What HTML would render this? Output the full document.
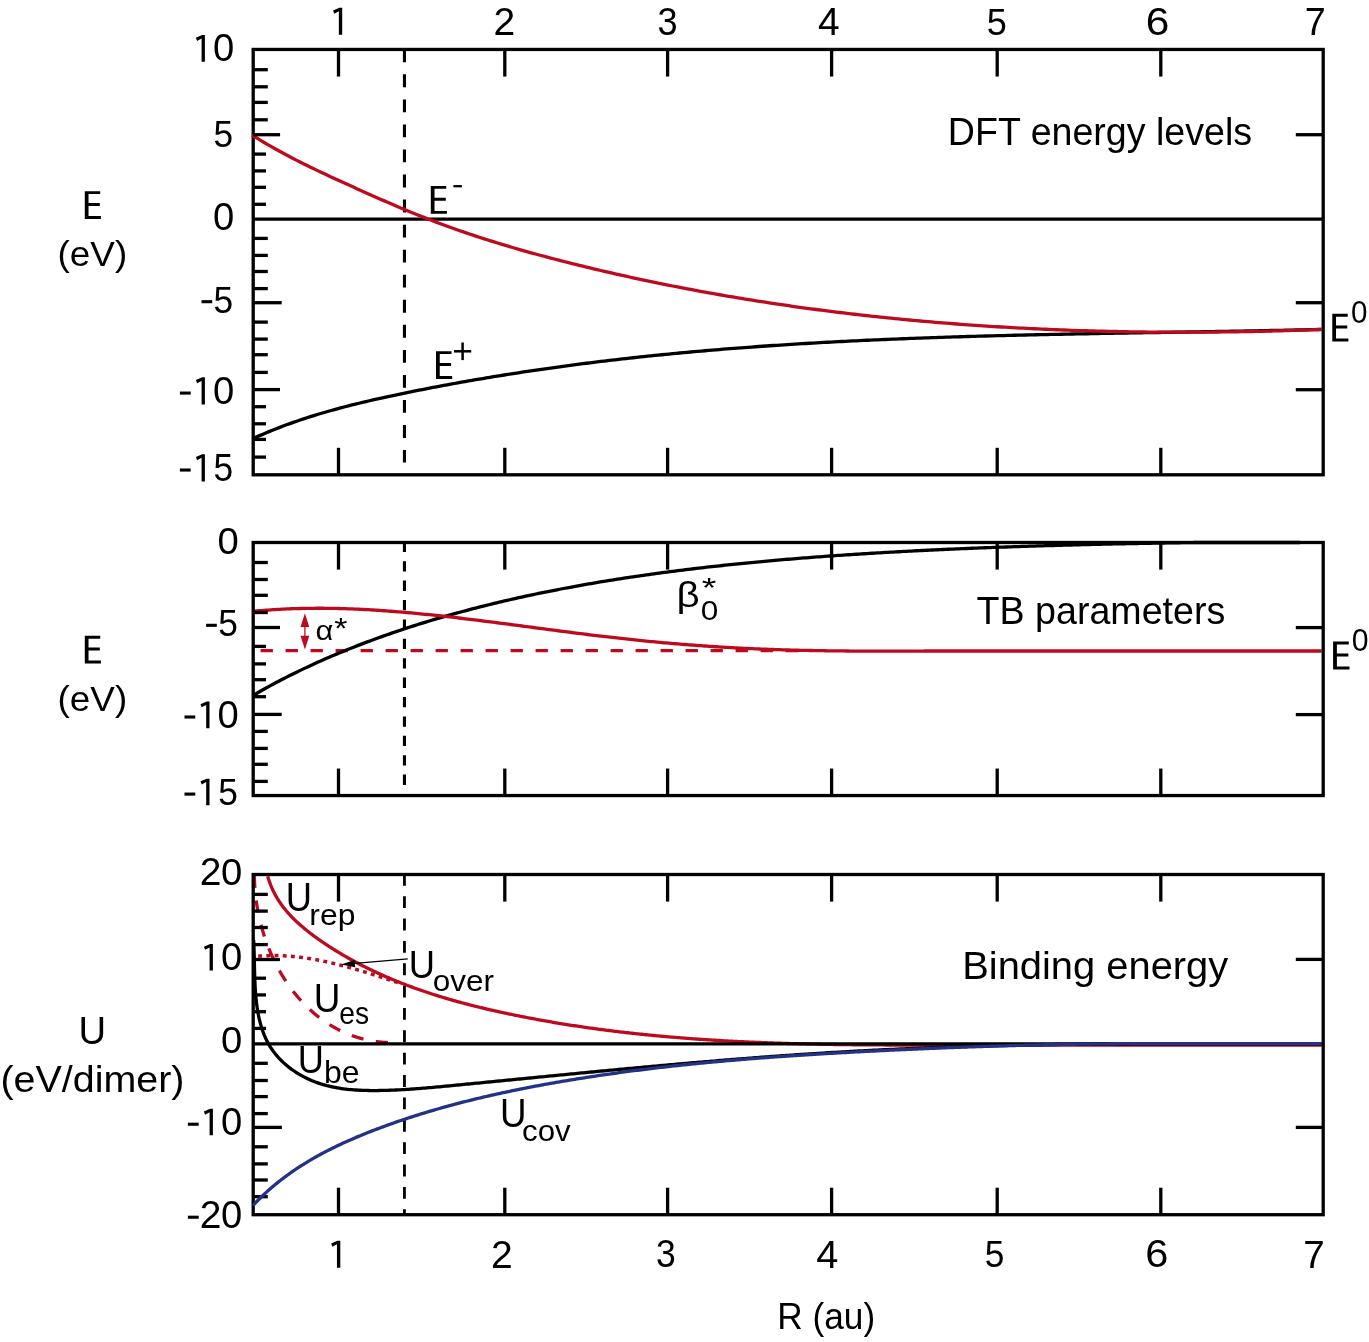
<!DOCTYPE html>
<html><head><meta charset="utf-8"><title>DFT energy levels, TB parameters and binding energy vs R (au)</title>
<style>html,body{margin:0;padding:0;background:#fff}svg{display:block;will-change:transform}text{font-family:"Liberation Sans",sans-serif}</style></head>
<body>
<svg width="1369" height="1342" viewBox="0 0 1369 1342" font-family="'Liberation Sans', sans-serif">
<rect width="1369" height="1342" fill="#fff"/>
<line x1="404.45" y1="49.30" x2="404.45" y2="462.60" stroke="#000" stroke-width="3.1" stroke-dasharray="12.85 12.2"/>
<line x1="253.20" y1="219.20" x2="1323.20" y2="219.20" stroke="#000" stroke-width="3.3" />
<path d="M253.00,438.60 L256.31,437.09 L259.64,435.62 L262.97,434.17 L266.31,432.75 L269.65,431.36 L273.01,430.00 L276.37,428.67 L279.74,427.36 L283.12,426.07 L286.50,424.82 L289.90,423.58 L293.29,422.37 L296.70,421.19 L300.11,420.02 L303.53,418.88 L306.96,417.77 L310.39,416.67 L313.82,415.59 L317.27,414.54 L320.71,413.50 L324.17,412.48 L327.63,411.48 L331.09,410.50 L334.56,409.54 L338.03,408.59 L341.51,407.66 L344.99,406.75 L348.48,405.85 L351.97,404.97 L355.47,404.10 L358.96,403.24 L362.47,402.40 L365.97,401.57 L369.48,400.75 L372.99,399.94 L376.51,399.15 L380.03,398.36 L383.55,397.58 L387.07,396.82 L390.59,396.06 L394.12,395.31 L397.65,394.56 L401.18,393.83 L404.71,393.10 L408.25,392.38 L411.78,391.66 L415.32,390.95 L418.86,390.24 L422.40,389.54 L425.94,388.85 L429.48,388.16 L433.03,387.47 L436.57,386.80 L440.12,386.13 L443.67,385.46 L447.22,384.80 L450.77,384.15 L454.32,383.50 L457.87,382.86 L461.43,382.22 L464.98,381.59 L468.54,380.96 L472.10,380.34 L475.66,379.72 L479.22,379.11 L482.78,378.51 L486.34,377.91 L489.90,377.32 L493.47,376.73 L497.03,376.15 L500.60,375.57 L504.17,375.00 L507.73,374.43 L511.30,373.87 L514.87,373.31 L518.44,372.76 L522.02,372.21 L525.59,371.67 L529.16,371.14 L532.74,370.61 L536.31,370.08 L539.89,369.56 L543.46,369.05 L547.04,368.54 L550.62,368.03 L554.20,367.53 L557.78,367.04 L561.36,366.55 L564.94,366.06 L568.52,365.58 L572.11,365.11 L575.69,364.64 L579.27,364.17 L582.86,363.71 L586.44,363.25 L590.03,362.80 L593.61,362.35 L597.20,361.91 L600.79,361.48 L604.37,361.04 L607.96,360.62 L611.55,360.19 L615.14,359.77 L618.73,359.36 L622.32,358.95 L625.90,358.55 L629.49,358.14 L633.09,357.75 L636.68,357.36 L640.27,356.97 L643.86,356.59 L647.45,356.21 L651.04,355.84 L654.63,355.47 L658.22,355.10 L661.82,354.74 L665.41,354.39 L669.00,354.03 L672.60,353.68 L676.19,353.34 L679.78,353.00 L683.38,352.67 L686.97,352.33 L690.57,352.01 L694.16,351.68 L697.76,351.36 L701.35,351.05 L704.95,350.74 L708.54,350.43 L712.14,350.12 L715.73,349.82 L719.33,349.53 L722.93,349.23 L726.52,348.95 L730.12,348.66 L733.72,348.38 L737.31,348.10 L740.91,347.83 L744.51,347.56 L748.11,347.29 L751.71,347.03 L755.30,346.77 L758.90,346.51 L762.50,346.26 L766.10,346.01 L769.70,345.76 L773.30,345.52 L776.90,345.28 L780.50,345.04 L784.10,344.81 L787.70,344.58 L791.30,344.35 L794.90,344.13 L798.50,343.91 L802.10,343.69 L805.70,343.48 L809.30,343.26 L812.91,343.06 L816.51,342.85 L820.11,342.65 L823.71,342.45 L827.31,342.25 L830.92,342.06 L834.52,341.87 L838.12,341.68 L841.72,341.49 L845.33,341.31 L848.93,341.13 L852.53,340.95 L856.14,340.78 L859.74,340.61 L863.34,340.44 L866.95,340.27 L870.55,340.11 L874.16,339.95 L877.76,339.79 L881.37,339.63 L884.97,339.48 L888.58,339.32 L892.18,339.17 L895.79,339.03 L899.39,338.88 L903.00,338.74 L906.60,338.60 L910.21,338.46 L913.81,338.32 L917.42,338.19 L921.02,338.06 L924.63,337.93 L928.24,337.80 L931.84,337.67 L935.45,337.55 L939.06,337.43 L942.66,337.31 L946.27,337.19 L949.88,337.07 L953.48,336.96 L957.09,336.85 L960.70,336.74 L964.30,336.63 L967.91,336.52 L971.52,336.41 L975.13,336.31 L978.73,336.21 L982.34,336.11 L985.95,336.01 L989.56,335.91 L993.17,335.81 L996.77,335.72 L1000.38,335.63 L1003.99,335.53 L1007.60,335.44 L1011.21,335.35 L1014.82,335.27 L1018.42,335.18 L1022.03,335.09 L1025.64,335.01 L1029.25,334.93 L1032.86,334.84 L1036.47,334.76 L1040.08,334.68 L1043.69,334.61 L1047.29,334.53 L1050.90,334.45 L1054.51,334.38 L1058.12,334.30 L1061.73,334.23 L1065.34,334.16 L1068.95,334.08 L1072.56,334.01 L1076.17,333.94 L1079.78,333.87 L1083.39,333.81 L1087.00,333.74 L1090.61,333.67 L1094.22,333.60 L1097.83,333.54 L1101.44,333.47 L1105.05,333.41 L1108.66,333.34 L1112.26,333.28 L1115.87,333.22 L1119.48,333.15 L1123.09,333.09 L1126.70,333.03 L1130.31,332.97 L1133.92,332.91 L1137.53,332.84 L1141.14,332.78 L1144.75,332.72 L1148.36,332.66 L1151.97,332.60 L1155.58,332.54 L1159.19,332.48 L1162.80,332.42 L1166.41,332.36 L1170.02,332.30 L1173.63,332.24 L1177.24,332.18 L1180.85,332.12 L1184.46,332.06 L1188.07,332.00 L1191.68,331.94 L1195.29,331.88 L1198.90,331.82 L1202.51,331.76 L1206.12,331.70 L1209.73,331.64 L1213.34,331.57 L1216.95,331.51 L1220.56,331.45 L1224.17,331.39 L1227.78,331.32 L1231.38,331.26 L1234.99,331.19 L1238.60,331.13 L1242.21,331.06 L1245.82,330.99 L1249.43,330.93 L1253.04,330.86 L1256.65,330.79 L1260.26,330.72 L1263.87,330.65 L1267.48,330.58 L1271.08,330.51 L1274.69,330.44 L1278.30,330.36 L1281.91,330.29 L1285.52,330.21 L1289.13,330.14 L1292.74,330.06 L1296.34,329.98 L1299.95,329.90 L1303.56,329.82 L1307.17,329.74 L1310.78,329.66 L1314.38,329.57 L1317.99,329.49 L1321.60,329.40" fill="none" stroke="#000" stroke-width="3.3" stroke-linejoin="round"/>
<rect x="253.2" y="49.45" width="1070.00" height="425.35" fill="none" stroke="#000" stroke-width="3.3"/>
<path d="M252.00,135.00 L255.12,136.97 L258.25,138.91 L261.40,140.82 L264.56,142.71 L267.74,144.58 L270.92,146.42 L274.12,148.23 L277.33,150.03 L280.55,151.80 L283.79,153.55 L287.03,155.28 L290.28,156.99 L293.54,158.69 L296.81,160.36 L300.09,162.03 L303.38,163.67 L306.67,165.30 L309.98,166.92 L313.29,168.53 L316.60,170.12 L319.92,171.70 L323.25,173.27 L326.58,174.84 L329.92,176.39 L333.26,177.94 L336.61,179.48 L339.96,181.01 L343.31,182.54 L346.66,184.07 L350.02,185.59 L353.38,187.11 L356.74,188.63 L360.10,190.15 L363.47,191.66 L366.84,193.17 L370.21,194.67 L373.58,196.17 L376.95,197.66 L380.33,199.15 L383.71,200.63 L387.09,202.10 L390.48,203.57 L393.87,205.03 L397.26,206.47 L400.66,207.91 L404.06,209.34 L407.47,210.76 L410.88,212.16 L414.29,213.56 L417.71,214.94 L421.13,216.31 L424.56,217.66 L427.99,219.00 L431.43,220.33 L434.87,221.64 L438.32,222.94 L441.77,224.22 L445.23,225.49 L448.69,226.75 L452.15,227.99 L455.62,229.22 L459.10,230.44 L462.58,231.64 L466.06,232.83 L469.55,234.01 L473.04,235.18 L476.53,236.33 L480.03,237.47 L483.53,238.60 L487.04,239.72 L490.55,240.83 L494.06,241.92 L497.58,243.01 L501.10,244.08 L504.63,245.15 L508.15,246.20 L511.68,247.24 L515.22,248.27 L518.75,249.30 L522.29,250.31 L525.83,251.31 L529.38,252.31 L532.92,253.29 L536.47,254.27 L540.03,255.23 L543.58,256.19 L547.14,257.14 L550.70,258.08 L554.26,259.01 L557.82,259.94 L561.39,260.86 L564.96,261.77 L568.53,262.67 L572.10,263.57 L575.67,264.45 L579.24,265.34 L582.82,266.21 L586.40,267.08 L589.98,267.94 L593.56,268.80 L597.14,269.65 L600.72,270.49 L604.31,271.33 L607.89,272.16 L611.48,272.98 L615.07,273.80 L618.66,274.61 L622.25,275.41 L625.84,276.21 L629.44,277.00 L633.03,277.78 L636.63,278.56 L640.23,279.33 L643.83,280.10 L647.43,280.86 L651.03,281.61 L654.63,282.36 L658.24,283.10 L661.85,283.84 L665.45,284.56 L669.06,285.29 L672.67,286.00 L676.28,286.71 L679.89,287.41 L683.51,288.11 L687.12,288.80 L690.74,289.49 L694.36,290.17 L697.97,290.84 L701.59,291.51 L705.21,292.17 L708.84,292.82 L712.46,293.47 L716.08,294.12 L719.71,294.75 L723.33,295.38 L726.96,296.01 L730.59,296.63 L734.22,297.24 L737.85,297.85 L741.48,298.45 L745.11,299.05 L748.75,299.63 L752.38,300.22 L756.02,300.80 L759.65,301.37 L763.29,301.93 L766.93,302.49 L770.57,303.05 L774.21,303.60 L777.85,304.14 L781.49,304.68 L785.13,305.21 L788.78,305.74 L792.42,306.26 L796.07,306.77 L799.72,307.28 L803.36,307.78 L807.01,308.28 L810.66,308.77 L814.31,309.26 L817.96,309.74 L821.62,310.22 L825.27,310.69 L828.92,311.15 L832.58,311.61 L836.23,312.06 L839.89,312.51 L843.54,312.95 L847.20,313.39 L850.86,313.82 L854.52,314.24 L858.18,314.67 L861.84,315.08 L865.50,315.49 L869.16,315.89 L872.82,316.29 L876.49,316.69 L880.15,317.07 L883.81,317.46 L887.48,317.84 L891.14,318.21 L894.81,318.57 L898.48,318.94 L902.14,319.29 L905.81,319.64 L909.48,319.99 L913.15,320.33 L916.82,320.67 L920.49,321.00 L924.16,321.32 L927.83,321.64 L931.50,321.96 L935.18,322.27 L938.85,322.57 L942.52,322.87 L946.20,323.17 L949.87,323.46 L953.55,323.74 L957.22,324.02 L960.90,324.30 L964.57,324.57 L968.25,324.83 L971.93,325.09 L975.60,325.35 L979.28,325.60 L982.96,325.84 L986.64,326.08 L990.32,326.32 L994.00,326.55 L997.67,326.77 L1001.35,326.99 L1005.03,327.21 L1008.72,327.42 L1012.40,327.63 L1016.08,327.83 L1019.76,328.03 L1023.44,328.22 L1027.12,328.40 L1030.80,328.59 L1034.49,328.77 L1038.17,328.94 L1041.85,329.11 L1045.53,329.27 L1049.22,329.43 L1052.90,329.58 L1056.58,329.73 L1060.27,329.88 L1063.95,330.02 L1067.64,330.16 L1071.32,330.29 L1075.00,330.42 L1078.69,330.54 L1082.37,330.66 L1086.06,330.77 L1089.74,330.88 L1093.43,330.98 L1097.11,331.09 L1100.80,331.18 L1104.48,331.27 L1108.17,331.36 L1111.85,331.44 L1115.54,331.52 L1119.22,331.59 L1122.91,331.66 L1126.59,331.73 L1130.28,331.79 L1133.96,331.85 L1137.64,331.90 L1141.33,331.95 L1145.01,331.99 L1148.70,332.03 L1152.38,332.07 L1156.07,332.10 L1159.75,332.13 L1163.44,332.15 L1167.12,332.17 L1170.80,332.18 L1174.49,332.19 L1178.17,332.20 L1181.85,332.20 L1185.54,332.20 L1189.22,332.19 L1192.90,332.18 L1196.59,332.17 L1200.27,332.15 L1203.95,332.13 L1207.63,332.10 L1211.31,332.07 L1215.00,332.04 L1218.68,332.00 L1222.36,331.96 L1226.04,331.91 L1229.72,331.87 L1233.40,331.81 L1237.08,331.75 L1240.76,331.69 L1244.44,331.63 L1248.12,331.56 L1251.79,331.49 L1255.47,331.41 L1259.15,331.33 L1262.83,331.25 L1266.50,331.16 L1270.18,331.07 L1273.86,330.97 L1277.53,330.87 L1281.21,330.77 L1284.88,330.66 L1288.55,330.55 L1292.23,330.44 L1295.90,330.32 L1299.57,330.20 L1303.25,330.08 L1306.92,329.95 L1310.59,329.82 L1314.26,329.68 L1317.93,329.54 L1321.60,329.40" fill="none" stroke="#BE0A1E" stroke-width="3.3" stroke-linejoin="round"/>
<line x1="253.20" y1="134.70" x2="280.10" y2="134.70" stroke="#000" stroke-width="3.3" />
<line x1="253.20" y1="302.70" x2="281.70" y2="302.70" stroke="#000" stroke-width="3.3" />
<line x1="253.20" y1="389.60" x2="280.00" y2="389.60" stroke="#000" stroke-width="3.3" />
<line x1="253.20" y1="69.70" x2="267.80" y2="69.70" stroke="#000" stroke-width="3.3" />
<line x1="253.20" y1="86.80" x2="267.80" y2="86.80" stroke="#000" stroke-width="3.3" />
<line x1="253.20" y1="102.40" x2="267.80" y2="102.40" stroke="#000" stroke-width="3.3" />
<line x1="253.20" y1="119.80" x2="267.80" y2="119.80" stroke="#000" stroke-width="3.3" />
<line x1="253.20" y1="238.40" x2="267.80" y2="238.40" stroke="#000" stroke-width="3.3" />
<line x1="253.20" y1="255.40" x2="267.80" y2="255.40" stroke="#000" stroke-width="3.3" />
<line x1="253.20" y1="271.50" x2="267.80" y2="271.50" stroke="#000" stroke-width="3.3" />
<line x1="253.20" y1="288.60" x2="267.80" y2="288.60" stroke="#000" stroke-width="3.3" />
<line x1="253.20" y1="322.10" x2="267.80" y2="322.10" stroke="#000" stroke-width="3.3" />
<line x1="253.20" y1="339.10" x2="267.80" y2="339.10" stroke="#000" stroke-width="3.3" />
<line x1="253.20" y1="354.70" x2="267.80" y2="354.70" stroke="#000" stroke-width="3.3" />
<line x1="253.20" y1="372.40" x2="267.80" y2="372.40" stroke="#000" stroke-width="3.3" />
<line x1="253.20" y1="154.10" x2="266.00" y2="154.10" stroke="#000" stroke-width="3.3" />
<line x1="253.20" y1="170.90" x2="266.00" y2="170.90" stroke="#000" stroke-width="3.3" />
<line x1="253.20" y1="187.30" x2="266.00" y2="187.30" stroke="#000" stroke-width="3.3" />
<line x1="253.20" y1="204.30" x2="266.00" y2="204.30" stroke="#000" stroke-width="3.3" />
<line x1="253.20" y1="406.70" x2="266.00" y2="406.70" stroke="#000" stroke-width="3.3" />
<line x1="253.20" y1="423.80" x2="266.00" y2="423.80" stroke="#000" stroke-width="3.3" />
<line x1="253.20" y1="439.40" x2="266.00" y2="439.40" stroke="#000" stroke-width="3.3" />
<line x1="253.20" y1="457.10" x2="266.00" y2="457.10" stroke="#000" stroke-width="3.3" />
<line x1="1295.80" y1="134.70" x2="1323.20" y2="134.70" stroke="#000" stroke-width="3.3" />
<line x1="1295.80" y1="302.70" x2="1323.20" y2="302.70" stroke="#000" stroke-width="3.3" />
<line x1="1295.80" y1="389.70" x2="1323.20" y2="389.70" stroke="#000" stroke-width="3.3" />
<line x1="338.50" y1="49.45" x2="338.50" y2="76.55" stroke="#000" stroke-width="3.3" />
<line x1="338.50" y1="447.80" x2="338.50" y2="474.80" stroke="#000" stroke-width="3.3" />
<line x1="504.80" y1="49.45" x2="504.80" y2="76.55" stroke="#000" stroke-width="3.3" />
<line x1="504.80" y1="447.80" x2="504.80" y2="474.80" stroke="#000" stroke-width="3.3" />
<line x1="667.60" y1="49.45" x2="667.60" y2="76.55" stroke="#000" stroke-width="3.3" />
<line x1="667.60" y1="447.80" x2="667.60" y2="474.80" stroke="#000" stroke-width="3.3" />
<line x1="831.60" y1="49.45" x2="831.60" y2="76.55" stroke="#000" stroke-width="3.3" />
<line x1="831.60" y1="447.80" x2="831.60" y2="474.80" stroke="#000" stroke-width="3.3" />
<line x1="997.20" y1="49.45" x2="997.20" y2="76.55" stroke="#000" stroke-width="3.3" />
<line x1="997.20" y1="447.80" x2="997.20" y2="474.80" stroke="#000" stroke-width="3.3" />
<line x1="1160.80" y1="49.45" x2="1160.80" y2="76.55" stroke="#000" stroke-width="3.3" />
<line x1="1160.80" y1="447.80" x2="1160.80" y2="474.80" stroke="#000" stroke-width="3.3" />
<line x1="404.45" y1="541.80" x2="404.45" y2="795.00" stroke="#000" stroke-width="3.1" stroke-dasharray="10.3 9.1"/>
<line x1="260.60" y1="650.70" x2="800.00" y2="650.70" stroke="#BE0A1E" stroke-width="3.3" stroke-dasharray="12.3 12.7"/>
<path d="M252.50,695.85 L255.13,694.30 L257.75,692.77 L260.38,691.26 L263.00,689.77 L265.63,688.30 L268.25,686.84 L270.88,685.40 L273.50,683.98 L276.13,682.58 L278.75,681.19 L281.38,679.82 L284.00,678.47 L286.63,677.12 L289.25,675.80 L291.88,674.49 L294.51,673.19 L297.13,671.90 L299.76,670.63 L302.38,669.37 L305.01,668.13 L307.63,666.90 L310.26,665.68 L312.88,664.47 L315.51,663.28 L318.13,662.09 L320.76,660.92 L323.38,659.76 L326.01,658.61 L328.63,657.48 L331.26,656.35 L333.88,655.23 L336.51,654.13 L339.14,653.04 L341.76,651.95 L344.39,650.88 L347.01,649.81 L349.64,648.76 L352.26,647.72 L354.89,646.68 L357.51,645.66 L360.14,644.64 L362.76,643.64 L365.39,642.64 L368.01,641.65 L370.64,640.68 L373.26,639.71 L375.89,638.75 L378.52,637.80 L381.14,636.85 L383.77,635.92 L386.39,634.99 L389.02,634.08 L391.64,633.17 L394.27,632.27 L396.89,631.38 L399.52,630.49 L402.14,629.61 L404.77,628.75 L407.39,627.89 L410.02,627.03 L412.64,626.19 L415.27,625.35 L417.89,624.52 L420.52,623.70 L423.15,622.88 L425.77,622.08 L428.40,621.28 L431.02,620.48 L433.65,619.70 L436.27,618.92 L438.90,618.15 L441.52,617.38 L444.15,616.62 L446.77,615.87 L449.40,615.13 L452.02,614.39 L454.65,613.66 L457.27,612.93 L459.90,612.22 L462.53,611.50 L465.15,610.80 L467.78,610.10 L470.40,609.41 L473.03,608.72 L475.65,608.04 L478.28,607.37 L480.90,606.70 L483.53,606.04 L486.15,605.38 L488.78,604.73 L491.40,604.09 L494.03,603.45 L496.65,602.82 L499.28,602.19 L501.90,601.57 L504.53,600.96 L507.16,600.35 L509.78,599.74 L512.41,599.14 L515.03,598.55 L517.66,597.96 L520.28,597.38 L522.91,596.80 L525.53,596.23 L528.16,595.66 L530.78,595.10 L533.41,594.55 L536.03,593.99 L538.66,593.45 L541.28,592.91 L543.91,592.37 L546.54,591.84 L549.16,591.31 L551.79,590.79 L554.41,590.27 L557.04,589.76 L559.66,589.25 L562.29,588.75 L564.91,588.25 L567.54,587.76 L570.16,587.27 L572.79,586.79 L575.41,586.31 L578.04,585.83 L580.66,585.36 L583.29,584.89 L585.91,584.43 L588.54,583.97 L591.17,583.52 L593.79,583.07 L596.42,582.62 L599.04,582.18 L601.67,581.74 L604.29,581.31 L606.92,580.88 L609.54,580.45 L612.17,580.03 L614.79,579.61 L617.42,579.20 L620.04,578.79 L622.67,578.39 L625.29,577.98 L627.92,577.59 L630.55,577.19 L633.17,576.80 L635.80,576.41 L638.42,576.03 L641.05,575.65 L643.67,575.27 L646.30,574.90 L648.92,574.53 L651.55,574.16 L654.17,573.80 L656.80,573.44 L659.42,573.09 L662.05,572.73 L664.67,572.39 L667.30,572.04 L669.92,571.70 L672.55,571.36 L675.18,571.02 L677.80,570.69 L680.43,570.36 L683.05,570.03 L685.68,569.71 L688.30,569.39 L690.93,569.07 L693.55,568.76 L696.18,568.45 L698.80,568.14 L701.43,567.83 L704.05,567.53 L706.68,567.23 L709.30,566.94 L711.93,566.64 L714.56,566.35 L717.18,566.06 L719.81,565.78 L722.43,565.50 L725.06,565.22 L727.68,564.94 L730.31,564.67 L732.93,564.39 L735.56,564.12 L738.18,563.86 L740.81,563.59 L743.43,563.33 L746.06,563.07 L748.68,562.82 L751.31,562.56 L753.93,562.31 L756.56,562.06 L759.19,561.82 L761.81,561.57 L764.44,561.33 L767.06,561.09 L769.69,560.86 L772.31,560.62 L774.94,560.39 L777.56,560.16 L780.19,559.93 L782.81,559.71 L785.44,559.48 L788.06,559.26 L790.69,559.04 L793.31,558.83 L795.94,558.61 L798.57,558.40 L801.19,558.19 L803.82,557.98 L806.44,557.78 L809.07,557.57 L811.69,557.37 L814.32,557.17 L816.94,556.97 L819.57,556.78 L822.19,556.58 L824.82,556.39 L827.44,556.20 L830.07,556.01 L832.69,555.82 L835.32,555.64 L837.94,555.46 L840.57,555.28 L843.20,555.10 L845.82,554.92 L848.45,554.75 L851.07,554.57 L853.70,554.40 L856.32,554.23 L858.95,554.06 L861.57,553.90 L864.20,553.73 L866.82,553.57 L869.45,553.41 L872.07,553.25 L874.70,553.09 L877.32,552.93 L879.95,552.78 L882.58,552.62 L885.20,552.47 L887.83,552.32 L890.45,552.17 L893.08,552.03 L895.70,551.88 L898.33,551.74 L900.95,551.59 L903.58,551.45 L906.20,551.31 L908.83,551.18 L911.45,551.04 L914.08,550.90 L916.70,550.77 L919.33,550.64 L921.95,550.51 L924.58,550.38 L927.21,550.25 L929.83,550.12 L932.46,550.00 L935.08,549.87 L937.71,549.75 L940.33,549.63 L942.96,549.51 L945.58,549.39 L948.21,549.27 L950.83,549.15 L953.46,549.04 L956.08,548.93 L958.71,548.81 L961.33,548.70 L963.96,548.59 L966.59,548.48 L969.21,548.37 L971.84,548.27 L974.46,548.16 L977.09,548.06 L979.71,547.95 L982.34,547.85 L984.96,547.75 L987.59,547.65 L990.21,547.55 L992.84,547.45 L995.46,547.36 L998.09,547.26 L1000.71,547.17 L1003.34,547.07 L1005.96,546.98 L1008.59,546.89 L1011.22,546.80 L1013.84,546.71 L1016.47,546.62 L1019.09,546.53 L1021.72,546.45 L1024.34,546.36 L1026.97,546.28 L1029.59,546.19 L1032.22,546.11 L1034.84,546.03 L1037.47,545.95 L1040.09,545.87 L1042.72,545.79 L1045.34,545.71 L1047.97,545.63 L1050.60,545.56 L1053.22,545.48 L1055.85,545.41 L1058.47,545.33 L1061.10,545.26 L1063.72,545.19 L1066.35,545.12 L1068.97,545.05 L1071.60,544.98 L1074.22,544.91 L1076.85,544.84 L1079.47,544.78 L1082.10,544.71 L1084.72,544.64 L1087.35,544.58 L1089.97,544.51 L1092.60,544.45 L1095.23,544.39 L1097.85,544.33 L1100.48,544.27 L1103.10,544.21 L1105.73,544.15 L1108.35,544.09 L1110.98,544.03 L1113.60,543.97 L1116.23,543.92 L1118.85,543.86 L1121.48,543.80 L1124.10,543.75 L1126.73,543.70 L1129.35,543.64 L1131.98,543.59 L1134.61,543.54 L1137.23,543.49 L1139.86,543.44 L1142.48,543.39 L1145.11,543.34 L1147.73,543.29 L1150.36,543.24 L1152.98,543.19 L1155.61,543.14 L1158.23,543.10 L1160.86,543.05 L1163.48,543.01 L1166.11,542.96 L1168.73,542.92 L1171.36,542.87 L1173.98,542.83 L1176.61,542.79 L1179.24,542.75 L1181.86,542.71 L1184.49,542.67 L1187.11,542.62 L1189.74,542.59 L1192.36,542.55 L1194.99,542.51 L1197.61,542.50 L1200.24,542.50 L1202.86,542.50 L1205.49,542.50 L1208.11,542.50 L1210.74,542.50 L1213.36,542.50 L1215.99,542.50 L1218.62,542.50 L1221.24,542.50 L1223.87,542.50 L1226.49,542.50 L1229.12,542.50 L1231.74,542.50 L1234.37,542.50 L1236.99,542.50 L1239.62,542.50 L1242.24,542.50 L1244.87,542.50 L1247.49,542.50 L1250.12,542.50 L1252.74,542.50 L1255.37,542.50 L1257.99,542.50 L1260.62,542.50 L1263.25,542.50 L1265.87,542.50 L1268.50,542.50 L1271.12,542.50 L1273.75,542.50 L1276.37,542.50 L1279.00,542.50 L1281.62,542.50 L1284.25,542.50 L1286.87,542.50 L1289.50,542.50 L1292.12,542.50 L1294.75,542.50 L1297.37,542.50 L1300.00,542.50" fill="none" stroke="#000" stroke-width="3.3" stroke-linejoin="round"/>
<path d="M252.50,611.40 L254.77,611.18 L257.04,610.96 L259.32,610.76 L261.59,610.56 L263.86,610.38 L266.13,610.20 L268.41,610.03 L270.68,609.87 L272.95,609.71 L275.22,609.57 L277.49,609.43 L279.77,609.30 L282.04,609.18 L284.31,609.06 L286.58,608.96 L288.85,608.86 L291.12,608.77 L293.40,608.69 L295.67,608.61 L297.94,608.55 L300.21,608.49 L302.48,608.43 L304.75,608.39 L307.02,608.35 L309.29,608.32 L311.56,608.29 L313.83,608.28 L316.10,608.26 L318.38,608.26 L320.65,608.26 L322.92,608.27 L325.19,608.29 L327.46,608.31 L329.72,608.34 L331.99,608.37 L334.26,608.42 L336.53,608.46 L338.80,608.52 L341.07,608.57 L343.34,608.64 L345.61,608.71 L347.88,608.79 L350.15,608.87 L352.41,608.96 L354.68,609.05 L356.95,609.15 L359.22,609.26 L361.49,609.36 L363.75,609.48 L366.02,609.60 L368.29,609.72 L370.56,609.85 L372.82,609.99 L375.09,610.13 L377.36,610.27 L379.62,610.42 L381.89,610.58 L384.16,610.74 L386.42,610.90 L388.69,611.06 L390.95,611.24 L393.22,611.41 L395.48,611.59 L397.75,611.78 L400.01,611.96 L402.28,612.15 L404.54,612.35 L406.81,612.55 L409.07,612.75 L411.33,612.96 L413.60,613.17 L415.86,613.38 L418.12,613.60 L420.39,613.82 L422.65,614.04 L424.91,614.27 L427.17,614.50 L429.43,614.73 L431.70,614.97 L433.96,615.20 L436.22,615.45 L438.48,615.69 L440.74,615.94 L443.00,616.18 L445.26,616.44 L447.52,616.69 L449.78,616.95 L452.04,617.20 L454.30,617.46 L456.56,617.73 L458.82,617.99 L461.08,618.26 L463.34,618.53 L465.59,618.80 L467.85,619.07 L470.11,619.34 L472.37,619.62 L474.63,619.90 L476.88,620.18 L479.14,620.46 L481.40,620.74 L483.66,621.02 L485.91,621.31 L488.17,621.59 L490.43,621.88 L492.68,622.17 L494.94,622.46 L497.20,622.75 L499.45,623.04 L501.71,623.33 L503.96,623.63 L506.22,623.92 L508.48,624.21 L510.73,624.51 L512.99,624.81 L515.24,625.10 L517.50,625.40 L519.76,625.70 L522.01,625.99 L524.27,626.29 L526.52,626.59 L528.78,626.89 L531.03,627.19 L533.29,627.49 L535.54,627.78 L537.80,628.08 L540.06,628.38 L542.31,628.68 L544.57,628.98 L546.82,629.27 L549.08,629.57 L551.33,629.87 L553.59,630.16 L555.84,630.46 L558.10,630.75 L560.36,631.05 L562.61,631.34 L564.87,631.63 L567.12,631.92 L569.38,632.21 L571.63,632.50 L573.89,632.79 L576.15,633.08 L578.40,633.36 L580.66,633.65 L582.92,633.93 L585.17,634.21 L587.43,634.49 L589.69,634.77 L591.94,635.05 L594.20,635.32 L596.46,635.60 L598.72,635.87 L600.97,636.14 L603.23,636.41 L605.49,636.67 L607.75,636.94 L610.00,637.20 L612.26,637.46 L614.52,637.72 L616.78,637.97 L619.04,638.23 L621.30,638.48 L623.56,638.73 L625.82,638.97 L628.08,639.22 L630.34,639.46 L632.60,639.69 L634.86,639.93 L637.12,640.16 L639.38,640.40 L641.64,640.62 L643.90,640.85 L646.16,641.08 L648.42,641.30 L650.69,641.52 L652.95,641.73 L655.21,641.95 L657.47,642.16 L659.74,642.37 L662.00,642.57 L664.26,642.78 L666.52,642.98 L668.79,643.18 L671.05,643.37 L673.31,643.57 L675.58,643.76 L677.84,643.95 L680.11,644.13 L682.37,644.32 L684.64,644.50 L686.90,644.68 L689.17,644.85 L691.43,645.02 L693.70,645.20 L695.96,645.36 L698.23,645.53 L700.50,645.69 L702.76,645.85 L705.03,646.01 L707.30,646.16 L709.56,646.32 L711.83,646.47 L714.10,646.61 L716.36,646.76 L718.63,646.90 L720.90,647.04 L723.17,647.17 L725.44,647.31 L727.71,647.44 L729.97,647.56 L732.24,647.69 L734.51,647.81 L736.78,647.93 L739.05,648.05 L741.32,648.16 L743.59,648.28 L745.86,648.38 L748.13,648.49 L750.40,648.59 L752.67,648.70 L754.94,648.80 L757.21,648.89 L759.49,648.99 L761.76,649.08 L764.03,649.17 L766.30,649.25 L768.57,649.34 L770.84,649.42 L773.12,649.50 L775.39,649.58 L777.66,649.65 L779.93,649.72 L782.20,649.79 L784.48,649.86 L786.75,649.93 L789.02,649.99 L791.30,650.05 L793.57,650.11 L795.84,650.17 L798.12,650.23 L800.39,650.28 L802.66,650.33 L804.94,650.38 L807.21,650.43 L809.48,650.48 L811.76,650.52 L814.03,650.57 L816.31,650.61 L818.58,650.65 L820.85,650.68 L823.13,650.72 L825.40,650.75 L827.68,650.79 L829.95,650.82 L832.23,650.85 L834.50,650.88 L836.77,650.90 L839.05,650.93 L841.32,650.95 L843.60,650.97 L845.87,650.99 L848.15,651.01 L850.42,651.03 L852.70,651.04 L854.97,651.06 L857.24,651.07 L859.52,651.09 L861.79,651.10 L864.07,651.11 L866.34,651.12 L868.62,651.12 L870.89,651.13 L873.16,651.14 L875.44,651.14 L877.71,651.14 L879.99,651.15 L882.26,651.15 L884.54,651.15 L886.81,651.15 L889.08,651.15 L891.36,651.14 L893.63,651.14 L895.91,651.14 L898.18,651.13 L900.45,651.13 L902.73,651.12 L905.00,651.11 L907.27,651.11 L909.55,651.10 L911.82,651.09 L914.09,651.08 L916.36,651.07 L918.64,651.06 L920.91,651.05 L923.18,651.04 L925.46,651.02 L927.73,651.01 L930.00,651.00 L1321.60,651.00" fill="none" stroke="#BE0A1E" stroke-width="3.3" stroke-linejoin="round"/>
<line x1="304.90" y1="622.00" x2="304.90" y2="641.00" stroke="#BE0A1E" stroke-width="1.3" />
<path d="M304.9,613.2 L309.3,627 L300.5,627 Z M304.9,649.6 L309.3,635.8 L300.5,635.8 Z" fill="#BE0A1E"/>
<rect x="253.2" y="542.5" width="1070.00" height="253.05" fill="none" stroke="#000" stroke-width="3.3"/>
<line x1="253.20" y1="627.50" x2="280.00" y2="627.50" stroke="#000" stroke-width="3.3" />
<line x1="253.20" y1="714.40" x2="281.70" y2="714.40" stroke="#000" stroke-width="3.3" />
<line x1="253.20" y1="562.50" x2="267.80" y2="562.50" stroke="#000" stroke-width="3.3" />
<line x1="253.20" y1="579.50" x2="267.80" y2="579.50" stroke="#000" stroke-width="3.3" />
<line x1="253.20" y1="595.30" x2="267.80" y2="595.30" stroke="#000" stroke-width="3.3" />
<line x1="253.20" y1="612.50" x2="267.80" y2="612.50" stroke="#000" stroke-width="3.3" />
<line x1="253.20" y1="731.40" x2="267.80" y2="731.40" stroke="#000" stroke-width="3.3" />
<line x1="253.20" y1="748.40" x2="267.80" y2="748.40" stroke="#000" stroke-width="3.3" />
<line x1="253.20" y1="764.30" x2="267.80" y2="764.30" stroke="#000" stroke-width="3.3" />
<line x1="253.20" y1="781.40" x2="267.80" y2="781.40" stroke="#000" stroke-width="3.3" />
<line x1="253.20" y1="646.40" x2="266.00" y2="646.40" stroke="#000" stroke-width="3.3" />
<line x1="253.20" y1="663.90" x2="266.00" y2="663.90" stroke="#000" stroke-width="3.3" />
<line x1="253.20" y1="679.70" x2="266.00" y2="679.70" stroke="#000" stroke-width="3.3" />
<line x1="253.20" y1="696.70" x2="266.00" y2="696.70" stroke="#000" stroke-width="3.3" />
<line x1="1295.80" y1="627.60" x2="1323.20" y2="627.60" stroke="#000" stroke-width="3.3" />
<line x1="1295.80" y1="714.60" x2="1323.20" y2="714.60" stroke="#000" stroke-width="3.3" />
<line x1="338.50" y1="542.50" x2="338.50" y2="569.60" stroke="#000" stroke-width="3.3" />
<line x1="338.50" y1="768.55" x2="338.50" y2="795.55" stroke="#000" stroke-width="3.3" />
<line x1="504.80" y1="542.50" x2="504.80" y2="569.60" stroke="#000" stroke-width="3.3" />
<line x1="504.80" y1="768.55" x2="504.80" y2="795.55" stroke="#000" stroke-width="3.3" />
<line x1="667.60" y1="542.50" x2="667.60" y2="569.60" stroke="#000" stroke-width="3.3" />
<line x1="667.60" y1="768.55" x2="667.60" y2="795.55" stroke="#000" stroke-width="3.3" />
<line x1="831.60" y1="542.50" x2="831.60" y2="569.60" stroke="#000" stroke-width="3.3" />
<line x1="831.60" y1="768.55" x2="831.60" y2="795.55" stroke="#000" stroke-width="3.3" />
<line x1="997.20" y1="542.50" x2="997.20" y2="569.60" stroke="#000" stroke-width="3.3" />
<line x1="997.20" y1="768.55" x2="997.20" y2="795.55" stroke="#000" stroke-width="3.3" />
<line x1="1160.80" y1="542.50" x2="1160.80" y2="569.60" stroke="#000" stroke-width="3.3" />
<line x1="1160.80" y1="768.55" x2="1160.80" y2="795.55" stroke="#000" stroke-width="3.3" />
<line x1="404.45" y1="873.85" x2="404.45" y2="1214.00" stroke="#000" stroke-width="2.8" stroke-dasharray="11.85 10.51"/>
<path d="M254.40,876.00 L254.41,876.58 L254.41,877.16 L254.42,877.74 L254.44,878.32 L254.45,878.90 L254.46,879.48 L254.48,880.06 L254.50,880.64 L254.52,881.22 L254.54,881.80 L254.57,882.38 L254.59,882.96 L254.62,883.55 L254.65,884.13 L254.68,884.71 L254.72,885.29 L254.75,885.88 L254.79,886.46 L254.83,887.05 L254.87,887.63 L254.91,888.22 L254.95,888.80 L255.00,889.39 L255.04,889.97 L255.09,890.56 L255.14,891.14 L255.20,891.73 L255.25,892.31 L255.31,892.90 L255.37,893.49 L255.42,894.07 L255.49,894.66 L255.55,895.25 L255.61,895.83 L255.68,896.42 L255.75,897.01 L255.82,897.59 L255.89,898.18 L255.97,898.77 L256.04,899.35 L256.12,899.94 L256.20,900.53 L256.28,901.12 L256.36,901.70 L256.45,902.29 L256.53,902.88 L256.62,903.47 L256.71,904.05 L256.80,904.64 L256.90,905.23 L256.99,905.82 L257.09,906.40 L257.19,906.99 L257.29,907.58 L257.39,908.16 L257.49,908.75 L257.60,909.34 L257.71,909.93 L257.81,910.51 L257.93,911.10 L258.04,911.68 L258.15,912.27 L258.27,912.86 L258.39,913.44 L258.51,914.03 L258.63,914.61 L258.75,915.20 L258.87,915.79 L259.00,916.37 L259.13,916.96 L259.26,917.54 L259.39,918.12 L259.53,918.71 L259.66,919.29 L259.80,919.88 L259.94,920.46 L260.08,921.04 L260.22,921.62 L260.36,922.21 L260.51,922.79 L260.66,923.37 L260.81,923.95 L260.96,924.53 L261.11,925.11 L261.26,925.69 L261.42,926.28 L261.58,926.85 L261.74,927.43 L261.90,928.01 L262.06,928.59 L262.23,929.17 L262.39,929.75 L262.56,930.32 L262.73,930.90 L262.90,931.48 L263.08,932.05 L263.25,932.63 L263.43,933.20 L263.61,933.78 L263.79,934.35 L263.97,934.93 L264.15,935.50 L264.34,936.07 L264.53,936.64 L264.72,937.22 L264.91,937.79 L265.10,938.36 L265.29,938.93 L265.49,939.50 L265.69,940.07 L265.89,940.63 L266.09,941.20 L266.29,941.77 L266.50,942.33 L266.70,942.90 L266.91,943.46 L267.12,944.03 L267.33,944.59 L267.54,945.16 L267.76,945.72 L267.98,946.28 L268.19,946.84 L268.41,947.40 L268.64,947.96 L268.86,948.52 L269.08,949.08 L269.31,949.64 L269.54,950.19 L269.77,950.75 L270.00,951.30 L270.23,951.86 L270.47,952.41 L270.71,952.96 L270.95,953.52 L271.19,954.07 L271.43,954.62 L271.67,955.17 L271.92,955.72 L272.16,956.26 L272.41,956.81 L272.66,957.36 L272.92,957.90 L273.17,958.45 L273.43,958.99 L273.68,959.53 L273.94,960.07 L274.20,960.61 L274.47,961.15 L274.73,961.69 L275.00,962.23 L275.26,962.77 L275.53,963.30 L275.80,963.84 L276.08,964.37 L276.35,964.91 L276.63,965.44 L276.90,965.97 L277.18,966.50 L277.46,967.03 L277.75,967.56 L278.03,968.08 L278.32,968.61 L278.61,969.13 L278.90,969.66 L279.19,970.18 L279.48,970.70 L279.77,971.22 L280.07,971.74 L280.37,972.26 L280.67,972.78 L280.97,973.29 L281.27,973.81 L281.58,974.32 L281.88,974.83 L282.19,975.34 L282.50,975.85 L282.81,976.36 L283.12,976.87 L283.44,977.38 L283.76,977.88 L284.07,978.39 L284.39,978.89 L284.71,979.39 L285.04,979.89 L285.36,980.39 L285.69,980.89 L286.02,981.39 L286.35,981.88 L286.68,982.37 L287.01,982.87 L287.35,983.36 L287.68,983.85 L288.02,984.34 L288.36,984.82 L288.70,985.31 L289.04,985.79 L289.39,986.28 L289.73,986.76 L290.08,987.24 L290.43,987.72 L290.78,988.20 L291.14,988.67 L291.49,989.15 L291.85,989.62 L292.20,990.09 L292.56,990.56 L292.93,991.03 L293.29,991.50 L293.65,991.96 L294.02,992.43 L294.39,992.89 L294.76,993.35 L295.13,993.81 L295.50,994.27 L295.87,994.73 L296.25,995.18 L296.63,995.63 L297.01,996.09 L297.39,996.54 L297.77,996.99 L298.16,997.43 L298.54,997.88 L298.93,998.32 L299.32,998.77 L299.71,999.21 L300.10,999.65 L300.50,1000.08 L300.89,1000.52 L301.29,1000.95 L301.69,1001.39 L302.09,1001.82 L302.49,1002.25 L302.89,1002.67 L303.30,1003.10 L303.71,1003.52 L304.12,1003.94 L304.53,1004.36 L304.94,1004.78 L305.35,1005.20 L305.77,1005.62 L306.18,1006.03 L306.60,1006.44 L307.02,1006.85 L307.44,1007.26 L307.87,1007.66 L308.29,1008.07 L308.72,1008.47 L309.14,1008.87 L309.57,1009.27 L310.00,1009.67 L310.44,1010.06 L310.87,1010.46 L311.31,1010.85 L311.74,1011.24 L312.18,1011.62 L312.62,1012.01 L313.06,1012.39 L313.51,1012.77 L313.95,1013.15 L314.40,1013.53 L314.84,1013.91 L315.29,1014.28 L315.74,1014.65 L316.20,1015.02 L316.65,1015.39 L317.11,1015.75 L317.56,1016.12 L318.02,1016.48 L318.48,1016.84 L318.94,1017.20 L319.41,1017.55 L319.87,1017.91 L320.34,1018.26 L320.80,1018.61 L321.27,1018.95 L321.74,1019.30 L322.21,1019.64 L322.69,1019.98 L323.16,1020.32 L323.64,1020.66 L324.12,1020.99 L324.60,1021.32 L325.08,1021.65 L325.56,1021.98 L326.04,1022.31 L326.53,1022.63 L327.01,1022.95 L327.50,1023.27 L327.99,1023.59 L328.48,1023.90 L328.97,1024.21 L329.47,1024.52 L329.96,1024.83 L330.46,1025.13 L330.96,1025.44 L331.46,1025.74 L331.96,1026.04 L332.46,1026.33 L332.96,1026.63 L333.47,1026.92 L333.98,1027.21 L334.48,1027.49 L334.99,1027.78 L335.50,1028.06 L336.02,1028.34 L336.53,1028.62 L337.04,1028.89 L337.56,1029.16 L338.08,1029.43 L338.60,1029.70 L339.12,1029.96 L339.64,1030.23 L340.16,1030.49 L340.69,1030.74 L341.21,1031.00 L341.74,1031.25 L342.27,1031.50 L342.80,1031.75 L343.33,1032.00 L343.86,1032.24 L344.40,1032.48 L344.93,1032.72 L345.47,1032.95 L346.01,1033.18 L346.55,1033.41 L347.09,1033.64 L347.63,1033.86 L348.18,1034.09 L348.72,1034.30 L349.27,1034.52 L349.81,1034.74 L350.36,1034.95 L350.91,1035.16 L351.47,1035.36 L352.02,1035.57 L352.57,1035.77 L353.13,1035.96 L353.68,1036.16 L354.24,1036.35 L354.80,1036.54 L355.36,1036.73 L355.92,1036.91 L356.49,1037.10 L357.05,1037.27 L357.62,1037.45 L358.19,1037.62 L358.75,1037.80 L359.32,1037.96 L359.89,1038.13 L360.47,1038.29 L361.04,1038.45 L361.61,1038.61 L362.19,1038.76 L362.77,1038.91 L363.35,1039.06 L363.93,1039.20 L364.51,1039.35 L365.09,1039.49 L365.67,1039.62 L366.26,1039.76 L366.84,1039.89 L367.43,1040.01 L368.02,1040.14 L368.61,1040.26 L369.20,1040.38 L369.79,1040.50 L370.39,1040.61 L370.98,1040.72 L371.58,1040.83 L372.17,1040.93 L372.77,1041.03 L373.37,1041.13 L373.97,1041.22 L374.57,1041.32 L375.18,1041.41 L375.78,1041.49 L376.39,1041.57 L376.99,1041.65 L377.60,1041.73 L378.21,1041.80 L378.82,1041.87 L379.43,1041.94 L380.04,1042.01 L380.66,1042.07 L381.27,1042.12 L381.89,1042.18 L382.51,1042.23 L383.12,1042.28 L383.74,1042.32 L384.36,1042.37 L384.99,1042.41 L385.61,1042.44 L386.23,1042.47 L386.86,1042.50 L387.48,1042.53 L388.11,1042.55 L388.74,1042.57 L389.37,1042.59 L390.00,1042.60" fill="none" stroke="#BE0A1E" stroke-width="3.3" stroke-linejoin="round" stroke-dasharray="12.2 12.600000000000001" stroke-dashoffset="0.28"/>
<path d="M254.00,956.60 L254.51,956.55 L255.01,956.49 L255.52,956.44 L256.03,956.39 L256.53,956.34 L257.04,956.30 L257.54,956.25 L258.05,956.21 L258.55,956.17 L259.06,956.13 L259.57,956.09 L260.07,956.05 L260.58,956.01 L261.08,955.98 L261.59,955.95 L262.09,955.91 L262.60,955.88 L263.10,955.85 L263.61,955.83 L264.11,955.80 L264.62,955.77 L265.12,955.75 L265.63,955.73 L266.13,955.71 L266.64,955.69 L267.14,955.67 L267.64,955.65 L268.15,955.64 L268.65,955.63 L269.16,955.61 L269.66,955.60 L270.16,955.59 L270.67,955.58 L271.17,955.58 L271.67,955.57 L272.18,955.57 L272.68,955.56 L273.18,955.56 L273.69,955.56 L274.19,955.56 L274.69,955.56 L275.20,955.57 L275.70,955.57 L276.20,955.58 L276.70,955.58 L277.21,955.59 L277.71,955.60 L278.21,955.61 L278.71,955.63 L279.22,955.64 L279.72,955.65 L280.22,955.67 L280.72,955.69 L281.22,955.70 L281.73,955.72 L282.23,955.75 L282.73,955.77 L283.23,955.79 L283.73,955.82 L284.23,955.84 L284.73,955.87 L285.24,955.90 L285.74,955.92 L286.24,955.95 L286.74,955.99 L287.24,956.02 L287.74,956.05 L288.24,956.09 L288.74,956.12 L289.24,956.16 L289.74,956.20 L290.24,956.24 L290.74,956.28 L291.24,956.32 L291.74,956.36 L292.24,956.41 L292.74,956.45 L293.24,956.50 L293.74,956.55 L294.24,956.59 L294.74,956.64 L295.24,956.69 L295.74,956.75 L296.24,956.80 L296.74,956.85 L297.23,956.91 L297.73,956.96 L298.23,957.02 L298.73,957.08 L299.23,957.14 L299.73,957.20 L300.22,957.26 L300.72,957.32 L301.22,957.38 L301.72,957.45 L302.22,957.51 L302.71,957.58 L303.21,957.64 L303.71,957.71 L304.21,957.78 L304.70,957.85 L305.20,957.92 L305.70,957.99 L306.20,958.06 L306.69,958.14 L307.19,958.21 L307.69,958.29 L308.18,958.36 L308.68,958.44 L309.18,958.52 L309.67,958.60 L310.17,958.68 L310.67,958.76 L311.16,958.84 L311.66,958.93 L312.15,959.01 L312.65,959.09 L313.14,959.18 L313.64,959.27 L314.14,959.35 L314.63,959.44 L315.13,959.53 L315.62,959.62 L316.12,959.71 L316.61,959.80 L317.11,959.89 L317.60,959.99 L318.10,960.08 L318.59,960.17 L319.08,960.27 L319.58,960.37 L320.07,960.46 L320.57,960.56 L321.06,960.66 L321.55,960.76 L322.05,960.86 L322.54,960.96 L323.04,961.06 L323.53,961.17 L324.02,961.27 L324.52,961.37 L325.01,961.48 L325.50,961.58 L325.99,961.69 L326.49,961.80 L326.98,961.90 L327.47,962.01 L327.97,962.12 L328.46,962.23 L328.95,962.34 L329.44,962.45 L329.93,962.57 L330.43,962.68 L330.92,962.79 L331.41,962.91 L331.90,963.02 L332.39,963.14 L332.88,963.25 L333.38,963.37 L333.87,963.49 L334.36,963.60 L334.85,963.72 L335.34,963.84 L335.83,963.96 L336.32,964.08 L336.81,964.20 L337.30,964.32 L337.79,964.45 L338.28,964.57 L338.77,964.69 L339.26,964.82 L339.75,964.94 L340.24,965.07 L340.73,965.19 L341.22,965.32 L341.71,965.45 L342.20,965.57 L342.69,965.70 L343.18,965.83 L343.67,965.96 L344.16,966.09 L344.65,966.22 L345.13,966.35 L345.62,966.48 L346.11,966.61 L346.60,966.74 L347.09,966.88 L347.58,967.01 L348.06,967.14 L348.55,967.28 L349.04,967.41 L349.53,967.55 L350.01,967.68 L350.50,967.82 L350.99,967.96 L351.48,968.09 L351.96,968.23 L352.45,968.37 L352.94,968.51 L353.42,968.65 L353.91,968.78 L354.40,968.92 L354.88,969.06 L355.37,969.20 L355.86,969.35 L356.34,969.49 L356.83,969.63 L357.31,969.77 L357.80,969.91 L358.28,970.06 L358.77,970.20 L359.25,970.34 L359.74,970.49 L360.22,970.63 L360.71,970.77 L361.19,970.92 L361.68,971.06 L362.16,971.21 L362.65,971.36 L363.13,971.50 L363.62,971.65 L364.10,971.80 L364.58,971.94 L365.07,972.09 L365.55,972.24 L366.04,972.39 L366.52,972.53 L367.00,972.68 L367.49,972.83 L367.97,972.98 L368.45,973.13 L368.93,973.28 L369.42,973.43 L369.90,973.58 L370.38,973.73 L370.86,973.88 L371.35,974.03 L371.83,974.18 L372.31,974.33 L372.79,974.48 L373.27,974.64 L373.76,974.79 L374.24,974.94 L374.72,975.09 L375.20,975.24 L375.68,975.40 L376.16,975.55 L376.64,975.70 L377.12,975.86 L377.61,976.01 L378.09,976.16 L378.57,976.32 L379.05,976.47 L379.53,976.62 L380.01,976.78 L380.49,976.93 L380.97,977.09 L381.45,977.24 L381.93,977.40 L382.40,977.55 L382.88,977.70 L383.36,977.86 L383.84,978.01 L384.32,978.17 L384.80,978.32 L385.28,978.48 L385.76,978.63 L386.24,978.79 L386.71,978.94 L387.19,979.10 L387.67,979.26 L388.15,979.41 L388.63,979.57 L389.10,979.72 L389.58,979.88 L390.06,980.03 L390.53,980.19 L391.01,980.34 L391.49,980.50 L391.97,980.65 L392.44,980.81 L392.92,980.97 L393.40,981.12 L393.87,981.28 L394.35,981.43 L394.82,981.59 L395.30,981.74 L395.78,981.90 L396.25,982.05 L396.73,982.21 L397.20,982.36 L397.68,982.52 L398.15,982.67 L398.63,982.83 L399.10,982.98 L399.58,983.14 L400.05,983.29 L400.53,983.45 L401.00,983.60" fill="none" stroke="#BE0A1E" stroke-width="3.5" stroke-linejoin="round" stroke-dasharray="3.9 4.3" stroke-dashoffset="4.00"/>
<path d="M267.70,876.20 L268.15,877.78 L268.63,879.35 L269.14,880.89 L269.67,882.42 L270.23,883.92 L270.81,885.41 L271.42,886.88 L272.05,888.34 L272.70,889.77 L273.38,891.19 L274.08,892.59 L274.80,893.97 L275.55,895.34 L276.31,896.69 L277.10,898.02 L277.91,899.34 L278.73,900.64 L279.58,901.93 L280.45,903.20 L281.33,904.46 L282.24,905.70 L283.16,906.93 L284.10,908.14 L285.05,909.34 L286.03,910.53 L287.02,911.70 L288.03,912.86 L289.05,914.01 L290.09,915.14 L291.14,916.26 L292.20,917.37 L293.29,918.47 L294.38,919.56 L295.49,920.63 L296.61,921.70 L297.74,922.75 L298.89,923.79 L300.04,924.83 L301.21,925.85 L302.39,926.86 L303.57,927.86 L304.77,928.86 L305.98,929.84 L307.20,930.82 L308.42,931.79 L309.66,932.75 L310.90,933.70 L312.15,934.64 L313.40,935.58 L314.66,936.50 L315.93,937.43 L317.21,938.34 L318.49,939.25 L319.77,940.15 L321.06,941.05 L322.35,941.94 L323.65,942.82 L324.95,943.70 L326.26,944.57 L327.57,945.43 L328.89,946.29 L330.21,947.15 L331.53,948.00 L332.86,948.84 L334.19,949.67 L335.52,950.50 L336.86,951.33 L338.21,952.15 L339.56,952.96 L340.91,953.77 L342.26,954.57 L343.62,955.36 L344.98,956.15 L346.35,956.94 L347.72,957.72 L349.09,958.49 L350.47,959.25 L351.85,960.02 L353.23,960.77 L354.62,961.52 L356.01,962.27 L357.40,963.01 L358.80,963.74 L360.19,964.47 L361.60,965.19 L363.00,965.91 L364.41,966.62 L365.82,967.32 L367.23,968.02 L368.65,968.72 L370.06,969.41 L371.48,970.09 L372.91,970.77 L374.33,971.44 L375.76,972.11 L377.19,972.78 L378.62,973.43 L380.06,974.08 L381.50,974.73 L382.93,975.37 L384.38,976.01 L385.82,976.64 L387.26,977.27 L388.71,977.89 L390.16,978.51 L391.61,979.12 L393.06,979.72 L394.52,980.32 L395.97,980.92 L397.43,981.51 L398.89,982.09 L400.35,982.68 L401.81,983.25 L403.27,983.82 L404.74,984.39 L406.20,984.95 L407.67,985.50 L409.14,986.05 L410.61,986.60 L412.08,987.14 L413.55,987.68 L415.02,988.21 L416.50,988.74 L417.97,989.26 L419.45,989.78 L420.92,990.29 L422.40,990.80 L423.88,991.31 L425.36,991.81 L426.84,992.30 L428.33,992.80 L429.81,993.28 L431.30,993.77 L432.78,994.25 L434.27,994.72 L435.76,995.19 L437.25,995.66 L438.74,996.12 L440.23,996.58 L441.72,997.03 L443.21,997.49 L444.71,997.93 L446.20,998.38 L447.70,998.82 L449.20,999.25 L450.70,999.68 L452.19,1000.11 L453.69,1000.54 L455.20,1000.96 L456.70,1001.38 L458.20,1001.79 L459.70,1002.20 L461.21,1002.61 L462.71,1003.01 L464.22,1003.41 L465.73,1003.81 L467.24,1004.21 L468.75,1004.60 L470.26,1004.99 L471.77,1005.37 L473.28,1005.75 L474.79,1006.13 L476.31,1006.51 L477.82,1006.88 L479.33,1007.25 L480.85,1007.62 L482.37,1007.98 L483.89,1008.35 L485.40,1008.70 L486.92,1009.06 L488.44,1009.41 L489.96,1009.77 L491.48,1010.11 L493.01,1010.46 L494.53,1010.80 L496.05,1011.14 L497.58,1011.48 L499.10,1011.82 L500.63,1012.15 L502.15,1012.49 L503.68,1012.82 L505.21,1013.14 L506.74,1013.47 L508.27,1013.79 L509.79,1014.11 L511.33,1014.43 L512.86,1014.75 L514.39,1015.06 L515.92,1015.38 L517.45,1015.69 L518.99,1015.99 L520.52,1016.30 L522.05,1016.60 L523.59,1016.91 L525.13,1017.21 L526.66,1017.50 L528.20,1017.80 L529.74,1018.09 L531.27,1018.39 L532.81,1018.68 L534.35,1018.96 L535.89,1019.25 L537.43,1019.53 L538.97,1019.81 L540.51,1020.09 L542.06,1020.37 L543.60,1020.65 L545.14,1020.92 L546.68,1021.19 L548.23,1021.46 L549.77,1021.73 L551.32,1021.99 L552.86,1022.26 L554.41,1022.52 L555.96,1022.78 L557.50,1023.04 L559.05,1023.29 L560.60,1023.55 L562.15,1023.80 L563.69,1024.05 L565.24,1024.30 L566.79,1024.54 L568.34,1024.79 L569.89,1025.03 L571.44,1025.27 L572.99,1025.51 L574.54,1025.75 L576.10,1025.98 L577.65,1026.22 L579.20,1026.45 L580.75,1026.68 L582.31,1026.91 L583.86,1027.13 L585.41,1027.36 L586.97,1027.58 L588.52,1027.80 L590.08,1028.02 L591.63,1028.23 L593.19,1028.45 L594.74,1028.66 L596.30,1028.87 L597.86,1029.08 L599.41,1029.29 L600.97,1029.50 L602.53,1029.70 L604.09,1029.90 L605.64,1030.11 L607.20,1030.30 L608.76,1030.50 L610.32,1030.70 L611.88,1030.89 L613.44,1031.08 L615.00,1031.27 L616.56,1031.46 L618.12,1031.65 L619.68,1031.84 L621.24,1032.02 L622.80,1032.20 L624.36,1032.38 L625.92,1032.56 L627.48,1032.74 L629.04,1032.92 L630.60,1033.09 L632.16,1033.26 L633.72,1033.43 L635.28,1033.60 L636.85,1033.77 L638.41,1033.94 L639.97,1034.10 L641.53,1034.26 L643.10,1034.42 L644.66,1034.58 L646.22,1034.74 L647.78,1034.90 L649.35,1035.05 L650.91,1035.21 L652.47,1035.36 L654.03,1035.51 L655.60,1035.66 L657.16,1035.80 L658.72,1035.95 L660.29,1036.09 L661.85,1036.24 L663.41,1036.38 L664.98,1036.52 L666.54,1036.66 L668.10,1036.79 L669.67,1036.93 L671.23,1037.06 L672.79,1037.19 L674.36,1037.32 L675.92,1037.45 L677.48,1037.58 L679.05,1037.71 L680.61,1037.83 L682.17,1037.96 L683.74,1038.08 L685.30,1038.20 L686.86,1038.32 L688.43,1038.44 L689.99,1038.55 L691.55,1038.67 L693.12,1038.78 L694.68,1038.90 L696.24,1039.01 L697.81,1039.12 L699.37,1039.23 L700.94,1039.33 L702.50,1039.44 L704.06,1039.55 L705.63,1039.65 L707.19,1039.75 L708.75,1039.85 L710.32,1039.95 L711.88,1040.05 L713.44,1040.15 L715.01,1040.24 L716.57,1040.34 L718.14,1040.43 L719.70,1040.52 L721.26,1040.62 L722.83,1040.71 L724.39,1040.79 L725.95,1040.88 L727.52,1040.97 L729.08,1041.05 L730.65,1041.14 L732.21,1041.22 L733.77,1041.30 L735.34,1041.38 L736.90,1041.46 L738.47,1041.54 L740.03,1041.62 L741.59,1041.69 L743.16,1041.77 L744.72,1041.84 L746.29,1041.91 L747.85,1041.99 L749.41,1042.06 L750.98,1042.13 L752.54,1042.19 L754.11,1042.26 L755.67,1042.33 L757.23,1042.39 L758.80,1042.46 L760.36,1042.52 L761.93,1042.58 L763.49,1042.64 L765.06,1042.70 L766.62,1042.76 L768.18,1042.82 L769.75,1042.88 L771.31,1042.94 L772.88,1042.99 L774.44,1043.05 L776.01,1043.10 L777.57,1043.15 L779.14,1043.20 L780.70,1043.25 L782.26,1043.30 L783.83,1043.35 L785.39,1043.40 L786.96,1043.45 L788.52,1043.49 L790.09,1043.54 L791.65,1043.58 L793.22,1043.63 L794.78,1043.67 L796.35,1043.71 L797.91,1043.75 L799.48,1043.79 L801.04,1043.83 L802.60,1043.87 L804.17,1043.91 L805.73,1043.95 L807.30,1043.98 L808.86,1044.02 L810.43,1044.05 L811.99,1044.09 L813.56,1044.12 L815.12,1044.15 L816.69,1044.19 L818.25,1044.22 L819.82,1044.25 L821.38,1044.28 L822.95,1044.31 L824.51,1044.34 L826.08,1044.36 L827.64,1044.39 L829.21,1044.42 L830.78,1044.44 L832.34,1044.47 L833.91,1044.49 L835.47,1044.51 L837.04,1044.54 L838.60,1044.56 L840.17,1044.58 L841.73,1044.60 L843.30,1044.62 L844.86,1044.64 L846.43,1044.66 L847.99,1044.68 L849.56,1044.70 L851.13,1044.72 L852.69,1044.74 L854.26,1044.75 L855.82,1044.77 L857.39,1044.78 L858.95,1044.80 L860.52,1044.81 L862.09,1044.83 L863.65,1044.84 L865.22,1044.85 L866.78,1044.87 L868.35,1044.88 L869.91,1044.89 L871.48,1044.90 L873.05,1044.91 L874.61,1044.92 L876.18,1044.93 L877.74,1044.94 L879.31,1044.95 L880.88,1044.96 L882.44,1044.97 L884.01,1044.97 L885.58,1044.98 L887.14,1044.99 L888.71,1045.00 L890.27,1045.00 L891.84,1045.01 L893.41,1045.01 L894.97,1045.02 L896.54,1045.02 L898.11,1045.03 L899.67,1045.03 L901.24,1045.04 L902.81,1045.04 L904.37,1045.04 L905.94,1045.05 L907.51,1045.05 L909.07,1045.05 L910.64,1045.05 L912.21,1045.05 L913.77,1045.06 L915.34,1045.06 L916.91,1045.06 L918.47,1045.06 L920.04,1045.06 L921.61,1045.06 L923.17,1045.06 L924.74,1045.06 L926.31,1045.06 L927.88,1045.06 L929.44,1045.06 L931.01,1045.06 L932.58,1045.06 L934.14,1045.06 L935.71,1045.06 L937.28,1045.06 L938.85,1045.06 L940.41,1045.06 L941.98,1045.05 L943.55,1045.05 L945.12,1045.05 L946.68,1045.05 L948.25,1045.05 L949.82,1045.05 L951.39,1045.04 L952.95,1045.04 L954.52,1045.04 L956.09,1045.04 L957.66,1045.04 L959.22,1045.03 L960.79,1045.03 L962.36,1045.03 L963.93,1045.03 L965.50,1045.03 L967.06,1045.02 L968.63,1045.02 L970.20,1045.02 L971.77,1045.02 L973.34,1045.02 L974.90,1045.01 L976.47,1045.01 L978.04,1045.01 L979.61,1045.01 L981.18,1045.01 L982.75,1045.01 L984.31,1045.01 L985.88,1045.00 L987.45,1045.00 L989.02,1045.00 L990.59,1045.00 L992.16,1045.00 L993.73,1045.00 L995.29,1045.00 L996.86,1045.00 L998.43,1045.00 L1000.00,1045.00 L1321.60,1045.00" fill="none" stroke="#BE0A1E" stroke-width="3.3" stroke-linejoin="round"/>
<line x1="253.20" y1="1043.95" x2="1323.20" y2="1043.95" stroke="#000" stroke-width="3.3" />
<path d="M253.60,940.00 L253.71,941.89 L253.81,943.81 L253.90,945.74 L253.98,947.70 L254.05,949.68 L254.11,951.68 L254.17,953.70 L254.22,955.73 L254.26,957.78 L254.31,959.84 L254.35,961.92 L254.39,964.01 L254.44,966.11 L254.48,968.23 L254.53,970.35 L254.58,972.48 L254.64,974.62 L254.71,976.76 L254.78,978.91 L254.86,981.07 L254.96,983.23 L255.06,985.39 L255.18,987.55 L255.31,989.71 L255.46,991.87 L255.62,994.03 L255.81,996.18 L256.01,998.33 L256.23,1000.48 L256.47,1002.61 L256.74,1004.75 L257.03,1006.87 L257.34,1008.98 L257.68,1011.08 L258.05,1013.17 L258.45,1015.25 L258.87,1017.32 L259.33,1019.37 L259.82,1021.40 L260.35,1023.42 L260.91,1025.42 L261.50,1027.39 L262.13,1029.35 L262.80,1031.29 L263.51,1033.21 L264.26,1035.10 L265.06,1036.97 L265.89,1038.81 L266.77,1040.63 L267.70,1042.41 L268.67,1044.17 L269.69,1045.90 L270.76,1047.60 L271.87,1049.27 L273.03,1050.91 L274.24,1052.52 L275.48,1054.10 L276.77,1055.64 L278.09,1057.16 L279.46,1058.64 L280.87,1060.09 L282.31,1061.51 L283.78,1062.89 L285.30,1064.24 L286.84,1065.56 L288.42,1066.85 L290.03,1068.10 L291.67,1069.32 L293.34,1070.50 L295.04,1071.65 L296.76,1072.77 L298.51,1073.84 L300.29,1074.89 L302.09,1075.90 L303.91,1076.87 L305.75,1077.81 L307.61,1078.71 L309.49,1079.57 L311.39,1080.40 L313.31,1081.19 L315.24,1081.95 L317.19,1082.66 L319.15,1083.34 L321.12,1083.98 L323.10,1084.59 L325.10,1085.15 L327.10,1085.69 L329.12,1086.18 L331.15,1086.65 L333.18,1087.08 L335.22,1087.49 L337.28,1087.86 L339.34,1088.20 L341.40,1088.52 L343.48,1088.81 L345.56,1089.07 L347.64,1089.30 L349.73,1089.52 L351.82,1089.71 L353.92,1089.87 L356.02,1090.02 L358.13,1090.14 L360.24,1090.25 L362.34,1090.34 L364.45,1090.41 L366.57,1090.46 L368.68,1090.50 L370.79,1090.53 L372.90,1090.54 L375.01,1090.54 L377.11,1090.53 L379.22,1090.50 L381.32,1090.47 L383.42,1090.43 L385.52,1090.38 L387.61,1090.32 L389.70,1090.25 L391.79,1090.17 L393.88,1090.09 L395.96,1090.00 L398.05,1089.90 L400.13,1089.79 L402.21,1089.68 L404.28,1089.56 L406.36,1089.43 L408.43,1089.30 L410.50,1089.16 L412.57,1089.02 L414.64,1088.87 L416.71,1088.72 L418.77,1088.56 L420.84,1088.40 L422.90,1088.23 L424.96,1088.06 L427.02,1087.89 L429.08,1087.71 L431.14,1087.53 L433.20,1087.34 L435.26,1087.16 L437.32,1086.97 L439.38,1086.78 L441.43,1086.58 L443.49,1086.39 L445.55,1086.19 L447.60,1086.00 L449.66,1085.80 L451.72,1085.60 L453.77,1085.40 L455.83,1085.21 L457.89,1085.01 L459.94,1084.81 L462.00,1084.61 L464.06,1084.41 L466.12,1084.21 L468.17,1084.01 L470.23,1083.81 L472.29,1083.61 L474.35,1083.42 L476.40,1083.22 L478.46,1083.02 L480.52,1082.82 L482.58,1082.61 L484.64,1082.41 L486.70,1082.21 L488.76,1082.01 L490.81,1081.81 L492.87,1081.61 L494.93,1081.41 L496.99,1081.21 L499.05,1081.01 L501.11,1080.81 L503.17,1080.61 L505.23,1080.40 L507.29,1080.20 L509.35,1080.00 L511.41,1079.80 L513.47,1079.60 L515.53,1079.40 L517.59,1079.20 L519.65,1079.00 L521.71,1078.79 L523.77,1078.59 L525.83,1078.39 L527.90,1078.19 L529.96,1077.99 L532.02,1077.79 L534.08,1077.59 L536.14,1077.38 L538.20,1077.18 L540.26,1076.98 L542.33,1076.78 L544.39,1076.58 L546.45,1076.38 L548.51,1076.18 L550.57,1075.98 L552.64,1075.78 L554.70,1075.58 L556.76,1075.38 L558.82,1075.18 L560.89,1074.98 L562.95,1074.78 L565.01,1074.58 L567.08,1074.38 L569.14,1074.18 L571.20,1073.98 L573.27,1073.78 L575.33,1073.58 L577.39,1073.38 L579.46,1073.18 L581.52,1072.98 L583.58,1072.79 L585.65,1072.59 L587.71,1072.39 L589.78,1072.19 L591.84,1072.00 L593.90,1071.80 L595.97,1071.60 L598.03,1071.41 L600.10,1071.21 L602.16,1071.01 L604.23,1070.82 L606.29,1070.62 L608.36,1070.43 L610.42,1070.23 L612.49,1070.04 L614.55,1069.84 L616.62,1069.65 L618.68,1069.46 L620.75,1069.26 L622.81,1069.07 L624.88,1068.88 L626.94,1068.69 L629.01,1068.49 L631.08,1068.30 L633.14,1068.11 L635.21,1067.92 L637.27,1067.73 L639.34,1067.54 L641.41,1067.35 L643.47,1067.16 L645.54,1066.97 L647.61,1066.78 L649.67,1066.60 L651.74,1066.41 L653.81,1066.22 L655.87,1066.03 L657.94,1065.85 L660.01,1065.66 L662.07,1065.48 L664.14,1065.29 L666.21,1065.11 L668.28,1064.92 L670.34,1064.74 L672.41,1064.56 L674.48,1064.38 L676.54,1064.19 L678.61,1064.01 L680.68,1063.83 L682.75,1063.65 L684.82,1063.47 L686.88,1063.29 L688.95,1063.11 L691.02,1062.94 L693.09,1062.76 L695.16,1062.58 L697.22,1062.41 L699.29,1062.23 L701.36,1062.06 L703.43,1061.88 L705.50,1061.71 L707.56,1061.53 L709.63,1061.36 L711.70,1061.19 L713.77,1061.02 L715.84,1060.85 L717.91,1060.68 L719.98,1060.51 L722.05,1060.34 L724.11,1060.17 L726.18,1060.00 L728.25,1059.84 L730.32,1059.67 L732.39,1059.51 L734.46,1059.34 L736.53,1059.18 L738.60,1059.01 L740.67,1058.85 L742.74,1058.69 L744.81,1058.53 L746.88,1058.37 L748.94,1058.21 L751.01,1058.05 L753.08,1057.89 L755.15,1057.73 L757.22,1057.58 L759.29,1057.42 L761.36,1057.27 L763.43,1057.11 L765.50,1056.96 L767.57,1056.81 L769.64,1056.66 L771.71,1056.51 L773.78,1056.36 L775.85,1056.21 L777.92,1056.06 L779.99,1055.91 L782.06,1055.76 L784.13,1055.62 L786.20,1055.47 L788.27,1055.33 L790.34,1055.19 L792.41,1055.05 L794.48,1054.90 L796.55,1054.76 L798.62,1054.62 L800.70,1054.49 L802.77,1054.35 L804.84,1054.21 L806.91,1054.08 L808.98,1053.94 L811.05,1053.81 L813.12,1053.67 L815.19,1053.54 L817.26,1053.41 L819.33,1053.28 L821.40,1053.15 L823.47,1053.03 L825.54,1052.90 L827.61,1052.77 L829.68,1052.65 L831.76,1052.52 L833.83,1052.40 L835.90,1052.28 L837.97,1052.16 L840.04,1052.04 L842.11,1051.92 L844.18,1051.80 L846.25,1051.69 L848.32,1051.57 L850.39,1051.46 L852.46,1051.34 L854.54,1051.23 L856.61,1051.12 L858.68,1051.01 L860.75,1050.90 L862.82,1050.79 L864.89,1050.68 L866.96,1050.58 L869.03,1050.47 L871.11,1050.36 L873.18,1050.26 L875.25,1050.16 L877.32,1050.06 L879.39,1049.96 L881.46,1049.86 L883.53,1049.76 L885.60,1049.66 L887.68,1049.56 L889.75,1049.46 L891.82,1049.37 L893.89,1049.28 L895.96,1049.18 L898.03,1049.09 L900.11,1049.00 L902.18,1048.91 L904.25,1048.82 L906.32,1048.73 L908.39,1048.64 L910.46,1048.55 L912.54,1048.47 L914.61,1048.38 L916.68,1048.30 L918.75,1048.21 L920.82,1048.13 L922.89,1048.05 L924.97,1047.97 L927.04,1047.89 L929.11,1047.81 L931.18,1047.73 L933.25,1047.66 L935.33,1047.58 L937.40,1047.50 L939.47,1047.43 L941.54,1047.35 L943.61,1047.28 L945.69,1047.21 L947.76,1047.14 L949.83,1047.07 L951.90,1047.00 L953.97,1046.93 L956.05,1046.86 L958.12,1046.79 L960.19,1046.73 L962.26,1046.66 L964.34,1046.60 L966.41,1046.53 L968.48,1046.47 L970.55,1046.41 L972.62,1046.35 L974.70,1046.28 L976.77,1046.22 L978.84,1046.17 L980.91,1046.11 L982.99,1046.05 L985.06,1045.99 L987.13,1045.94 L989.21,1045.88 L991.28,1045.83 L993.35,1045.77 L995.42,1045.72 L997.50,1045.67 L999.57,1045.62 L1001.64,1045.56 L1003.71,1045.51 L1005.79,1045.47 L1007.86,1045.42 L1009.93,1045.37 L1012.01,1045.32 L1014.08,1045.28 L1016.15,1045.23 L1018.22,1045.18 L1020.30,1045.14 L1022.37,1045.10 L1024.44,1045.05 L1026.52,1045.01 L1028.59,1044.97 L1030.66,1044.93 L1032.74,1044.89 L1034.81,1044.85 L1036.88,1044.81 L1038.96,1044.77 L1041.03,1044.74 L1043.10,1044.70 L1045.18,1044.66 L1047.25,1044.63 L1049.32,1044.59 L1051.40,1044.56 L1053.47,1044.53 L1055.54,1044.49 L1057.62,1044.46 L1059.69,1044.43 L1061.76,1044.40 L1063.84,1044.37 L1065.91,1044.34 L1067.98,1044.31 L1070.06,1044.28 L1072.13,1044.26 L1074.20,1044.23 L1076.28,1044.20 L1078.35,1044.18 L1080.43,1044.15 L1082.50,1044.13 L1084.57,1044.10 L1086.65,1044.08 L1088.72,1044.06 L1090.79,1044.04 L1092.87,1044.01 L1094.94,1043.99 L1097.02,1043.97 L1099.09,1043.95 L1101.16,1043.93 L1103.24,1043.92 L1105.31,1043.90 L1107.39,1043.88 L1109.46,1043.86 L1111.54,1043.85 L1113.61,1043.83 L1115.68,1043.82 L1117.76,1043.80 L1119.83,1043.79 L1121.91,1043.77 L1123.98,1043.76 L1126.06,1043.75 L1128.13,1043.74 L1130.20,1043.73 L1132.28,1043.71 L1134.35,1043.70 L1136.43,1043.69 L1138.50,1043.68 L1140.58,1043.68 L1142.65,1043.67 L1144.73,1043.66 L1146.80,1043.65 L1148.88,1043.65 L1150.95,1043.64 L1153.03,1043.63 L1155.10,1043.63 L1157.17,1043.62 L1159.25,1043.62 L1161.32,1043.61 L1163.40,1043.61 L1165.47,1043.61 L1167.55,1043.61 L1169.62,1043.60 L1171.70,1043.60 L1173.77,1043.60 L1175.85,1043.60 L1177.92,1043.60 L1180.00,1043.60 L1321.60,1043.60" fill="none" stroke="#000" stroke-width="3.3" stroke-linejoin="round"/>
<line x1="407.80" y1="958.90" x2="352.00" y2="963.70" stroke="#000" stroke-width="1.3" />
<path d="M341,964.5 L354.6,960.0 L355.2,967.2 Z" fill="#000"/>
<rect x="253.2" y="874.5" width="1070.00" height="340.20" fill="none" stroke="#000" stroke-width="3.3"/>
<line x1="253.20" y1="959.50" x2="279.90" y2="959.50" stroke="#000" stroke-width="3.3" />
<line x1="253.20" y1="1127.40" x2="281.90" y2="1127.40" stroke="#000" stroke-width="3.3" />
<line x1="253.20" y1="894.40" x2="267.80" y2="894.40" stroke="#000" stroke-width="3.3" />
<line x1="253.20" y1="911.10" x2="267.80" y2="911.10" stroke="#000" stroke-width="3.3" />
<line x1="253.20" y1="927.50" x2="267.80" y2="927.50" stroke="#000" stroke-width="3.3" />
<line x1="253.20" y1="944.60" x2="267.80" y2="944.60" stroke="#000" stroke-width="3.3" />
<line x1="253.20" y1="1063.30" x2="267.80" y2="1063.30" stroke="#000" stroke-width="3.3" />
<line x1="253.20" y1="1080.50" x2="267.80" y2="1080.50" stroke="#000" stroke-width="3.3" />
<line x1="253.20" y1="1096.60" x2="267.80" y2="1096.60" stroke="#000" stroke-width="3.3" />
<line x1="253.20" y1="1113.60" x2="267.80" y2="1113.60" stroke="#000" stroke-width="3.3" />
<line x1="253.20" y1="1146.80" x2="267.80" y2="1146.80" stroke="#000" stroke-width="3.3" />
<line x1="253.20" y1="1163.90" x2="267.80" y2="1163.90" stroke="#000" stroke-width="3.3" />
<line x1="253.20" y1="1180.00" x2="267.80" y2="1180.00" stroke="#000" stroke-width="3.3" />
<line x1="253.20" y1="1196.70" x2="267.80" y2="1196.70" stroke="#000" stroke-width="3.3" />
<line x1="253.20" y1="978.20" x2="266.00" y2="978.20" stroke="#000" stroke-width="3.3" />
<line x1="253.20" y1="994.90" x2="266.00" y2="994.90" stroke="#000" stroke-width="3.3" />
<line x1="253.20" y1="1011.70" x2="266.00" y2="1011.70" stroke="#000" stroke-width="3.3" />
<line x1="253.20" y1="1028.40" x2="266.00" y2="1028.40" stroke="#000" stroke-width="3.3" />
<line x1="1295.80" y1="959.40" x2="1323.20" y2="959.40" stroke="#000" stroke-width="3.3" />
<line x1="1295.80" y1="1127.40" x2="1323.20" y2="1127.40" stroke="#000" stroke-width="3.3" />
<line x1="338.50" y1="874.50" x2="338.50" y2="901.60" stroke="#000" stroke-width="3.3" />
<line x1="338.50" y1="1187.70" x2="338.50" y2="1214.70" stroke="#000" stroke-width="3.3" />
<line x1="504.80" y1="874.50" x2="504.80" y2="901.60" stroke="#000" stroke-width="3.3" />
<line x1="504.80" y1="1187.70" x2="504.80" y2="1214.70" stroke="#000" stroke-width="3.3" />
<line x1="667.60" y1="874.50" x2="667.60" y2="901.60" stroke="#000" stroke-width="3.3" />
<line x1="667.60" y1="1187.70" x2="667.60" y2="1214.70" stroke="#000" stroke-width="3.3" />
<line x1="831.60" y1="874.50" x2="831.60" y2="901.60" stroke="#000" stroke-width="3.3" />
<line x1="831.60" y1="1187.70" x2="831.60" y2="1214.70" stroke="#000" stroke-width="3.3" />
<line x1="997.20" y1="874.50" x2="997.20" y2="901.60" stroke="#000" stroke-width="3.3" />
<line x1="997.20" y1="1187.70" x2="997.20" y2="1214.70" stroke="#000" stroke-width="3.3" />
<line x1="1160.80" y1="874.50" x2="1160.80" y2="901.60" stroke="#000" stroke-width="3.3" />
<line x1="1160.80" y1="1187.70" x2="1160.80" y2="1214.70" stroke="#000" stroke-width="3.3" />
<path d="M253.00,1205.50 L254.33,1204.07 L255.68,1202.65 L257.04,1201.26 L258.40,1199.87 L259.78,1198.50 L261.17,1197.14 L262.56,1195.80 L263.97,1194.47 L265.38,1193.15 L266.80,1191.85 L268.24,1190.56 L269.68,1189.28 L271.13,1188.02 L272.59,1186.77 L274.06,1185.53 L275.53,1184.31 L277.02,1183.10 L278.51,1181.90 L280.01,1180.71 L281.52,1179.54 L283.04,1178.38 L284.56,1177.23 L286.09,1176.09 L287.63,1174.96 L289.18,1173.85 L290.74,1172.75 L292.30,1171.65 L293.87,1170.57 L295.45,1169.50 L297.03,1168.45 L298.62,1167.40 L300.22,1166.36 L301.83,1165.34 L303.44,1164.32 L305.06,1163.32 L306.68,1162.32 L308.31,1161.34 L309.95,1160.36 L311.59,1159.40 L313.24,1158.44 L314.90,1157.50 L316.56,1156.56 L318.22,1155.64 L319.89,1154.72 L321.57,1153.81 L323.25,1152.91 L324.94,1152.02 L326.63,1151.14 L328.33,1150.27 L330.04,1149.41 L331.74,1148.55 L333.46,1147.70 L335.17,1146.86 L336.89,1146.03 L338.62,1145.21 L340.35,1144.40 L342.08,1143.59 L343.82,1142.79 L345.57,1142.00 L347.31,1141.21 L349.06,1140.43 L350.82,1139.66 L352.57,1138.90 L354.33,1138.14 L356.10,1137.39 L357.86,1136.64 L359.63,1135.91 L361.41,1135.17 L363.18,1134.45 L364.96,1133.73 L366.74,1133.01 L368.53,1132.31 L370.32,1131.60 L372.10,1130.91 L373.90,1130.22 L375.69,1129.53 L377.48,1128.85 L379.28,1128.17 L381.08,1127.50 L382.88,1126.84 L384.69,1126.18 L386.49,1125.52 L388.30,1124.87 L390.11,1124.22 L391.92,1123.58 L393.73,1122.94 L395.54,1122.31 L397.36,1121.68 L399.17,1121.06 L400.99,1120.44 L402.81,1119.83 L404.63,1119.22 L406.46,1118.61 L408.28,1118.01 L410.11,1117.42 L411.94,1116.82 L413.77,1116.24 L415.60,1115.65 L417.43,1115.08 L419.26,1114.50 L421.10,1113.93 L422.94,1113.37 L424.78,1112.81 L426.62,1112.25 L428.46,1111.70 L430.30,1111.15 L432.14,1110.60 L433.99,1110.06 L435.84,1109.53 L437.68,1109.00 L439.53,1108.47 L441.38,1107.94 L443.24,1107.42 L445.09,1106.91 L446.94,1106.40 L448.80,1105.89 L450.66,1105.38 L452.51,1104.88 L454.37,1104.39 L456.23,1103.89 L458.09,1103.40 L459.96,1102.92 L461.82,1102.44 L463.68,1101.96 L465.55,1101.48 L467.42,1101.01 L469.28,1100.55 L471.15,1100.08 L473.02,1099.62 L474.89,1099.17 L476.76,1098.71 L478.64,1098.26 L480.51,1097.82 L482.38,1097.37 L484.26,1096.93 L486.14,1096.50 L488.01,1096.07 L489.89,1095.64 L491.77,1095.21 L493.65,1094.79 L495.53,1094.37 L497.41,1093.95 L499.29,1093.54 L501.17,1093.13 L503.05,1092.72 L504.94,1092.31 L506.82,1091.91 L508.71,1091.52 L510.59,1091.12 L512.48,1090.73 L514.36,1090.34 L516.25,1089.95 L518.14,1089.57 L520.03,1089.19 L521.92,1088.81 L523.81,1088.44 L525.70,1088.06 L527.59,1087.69 L529.48,1087.33 L531.37,1086.96 L533.26,1086.60 L535.15,1086.24 L537.04,1085.89 L538.94,1085.53 L540.83,1085.18 L542.72,1084.83 L544.62,1084.49 L546.51,1084.14 L548.40,1083.80 L550.30,1083.46 L552.19,1083.13 L554.09,1082.79 L555.98,1082.46 L557.88,1082.13 L559.77,1081.81 L561.67,1081.48 L563.57,1081.16 L565.46,1080.84 L567.36,1080.52 L569.25,1080.20 L571.15,1079.89 L573.05,1079.58 L574.94,1079.27 L576.84,1078.96 L578.74,1078.66 L580.64,1078.36 L582.53,1078.05 L584.43,1077.76 L586.33,1077.46 L588.23,1077.17 L590.13,1076.87 L592.03,1076.58 L593.93,1076.30 L595.82,1076.01 L597.72,1075.73 L599.62,1075.45 L601.52,1075.17 L603.42,1074.89 L605.32,1074.61 L607.22,1074.34 L609.12,1074.07 L611.02,1073.80 L612.92,1073.53 L614.83,1073.27 L616.73,1073.01 L618.63,1072.74 L620.53,1072.48 L622.43,1072.23 L624.33,1071.97 L626.23,1071.72 L628.14,1071.47 L630.04,1071.22 L631.94,1070.97 L633.84,1070.72 L635.75,1070.48 L637.65,1070.24 L639.55,1070.00 L641.46,1069.76 L643.36,1069.52 L645.26,1069.29 L647.17,1069.05 L649.07,1068.82 L650.98,1068.59 L652.88,1068.36 L654.78,1068.14 L656.69,1067.91 L658.59,1067.69 L660.50,1067.47 L662.40,1067.25 L664.31,1067.03 L666.21,1066.82 L668.12,1066.60 L670.03,1066.39 L671.93,1066.18 L673.84,1065.97 L675.74,1065.76 L677.65,1065.56 L679.56,1065.35 L681.46,1065.15 L683.37,1064.95 L685.28,1064.75 L687.18,1064.55 L689.09,1064.35 L691.00,1064.16 L692.91,1063.96 L694.81,1063.77 L696.72,1063.58 L698.63,1063.39 L700.54,1063.21 L702.45,1063.02 L704.35,1062.84 L706.26,1062.65 L708.17,1062.47 L710.08,1062.29 L711.99,1062.11 L713.90,1061.94 L715.81,1061.76 L717.72,1061.59 L719.63,1061.41 L721.54,1061.24 L723.45,1061.07 L725.36,1060.90 L727.27,1060.73 L729.18,1060.57 L731.09,1060.40 L733.00,1060.24 L734.91,1060.08 L736.82,1059.91 L738.73,1059.75 L740.64,1059.60 L742.55,1059.44 L744.46,1059.28 L746.37,1059.13 L748.29,1058.97 L750.20,1058.82 L752.11,1058.67 L754.02,1058.52 L755.93,1058.37 L757.85,1058.22 L759.76,1058.08 L761.67,1057.93 L763.58,1057.79 L765.50,1057.64 L767.41,1057.50 L769.32,1057.36 L771.23,1057.22 L773.15,1057.08 L775.06,1056.94 L776.97,1056.81 L778.89,1056.67 L780.80,1056.54 L782.71,1056.40 L784.63,1056.27 L786.54,1056.14 L788.46,1056.01 L790.37,1055.88 L792.28,1055.75 L794.20,1055.62 L796.11,1055.50 L798.03,1055.37 L799.94,1055.25 L801.86,1055.12 L803.77,1055.00 L805.69,1054.88 L807.60,1054.75 L809.52,1054.63 L811.43,1054.51 L813.35,1054.40 L815.26,1054.28 L817.18,1054.16 L819.09,1054.04 L821.01,1053.93 L822.93,1053.81 L824.84,1053.70 L826.76,1053.59 L828.67,1053.47 L830.59,1053.36 L832.51,1053.25 L834.42,1053.14 L836.34,1053.03 L838.26,1052.92 L840.17,1052.82 L842.09,1052.71 L844.01,1052.60 L845.93,1052.49 L847.84,1052.39 L849.76,1052.28 L851.68,1052.18 L853.59,1052.08 L855.51,1051.97 L857.43,1051.87 L859.35,1051.77 L861.26,1051.67 L863.18,1051.57 L865.10,1051.47 L867.02,1051.37 L868.94,1051.27 L870.85,1051.17 L872.77,1051.07 L874.69,1050.98 L876.61,1050.88 L878.53,1050.78 L880.45,1050.69 L882.37,1050.59 L884.28,1050.50 L886.20,1050.41 L888.12,1050.31 L890.04,1050.22 L891.96,1050.13 L893.88,1050.04 L895.80,1049.95 L897.72,1049.86 L899.64,1049.77 L901.56,1049.68 L903.48,1049.59 L905.39,1049.50 L907.31,1049.41 L909.23,1049.33 L911.15,1049.24 L913.07,1049.16 L914.99,1049.07 L916.91,1048.99 L918.83,1048.90 L920.75,1048.82 L922.67,1048.74 L924.59,1048.66 L926.51,1048.57 L928.43,1048.49 L930.35,1048.41 L932.27,1048.34 L934.19,1048.26 L936.11,1048.18 L938.03,1048.10 L939.95,1048.02 L941.87,1047.95 L943.79,1047.87 L945.72,1047.80 L947.64,1047.72 L949.56,1047.65 L951.48,1047.58 L953.40,1047.50 L955.32,1047.43 L957.24,1047.36 L959.16,1047.29 L961.08,1047.22 L963.00,1047.15 L964.92,1047.08 L966.84,1047.01 L968.76,1046.94 L970.69,1046.88 L972.61,1046.81 L974.53,1046.75 L976.45,1046.68 L978.37,1046.62 L980.29,1046.55 L982.21,1046.49 L984.13,1046.43 L986.05,1046.36 L987.97,1046.30 L989.90,1046.24 L991.82,1046.18 L993.74,1046.12 L995.66,1046.07 L997.58,1046.01 L999.50,1045.95 L1001.42,1045.89 L1003.34,1045.84 L1005.27,1045.78 L1007.19,1045.73 L1009.11,1045.67 L1011.03,1045.62 L1012.95,1045.57 L1014.87,1045.51 L1016.79,1045.46 L1018.71,1045.41 L1020.64,1045.36 L1022.56,1045.31 L1024.48,1045.26 L1026.40,1045.22 L1028.32,1045.17 L1030.24,1045.12 L1032.16,1045.07 L1034.08,1045.03 L1036.01,1044.98 L1037.93,1044.94 L1039.85,1044.90 L1041.77,1044.85 L1043.69,1044.81 L1045.61,1044.77 L1047.53,1044.73 L1049.45,1044.69 L1051.37,1044.65 L1053.30,1044.61 L1055.22,1044.57 L1057.14,1044.54 L1059.06,1044.50 L1060.98,1044.46 L1062.90,1044.43 L1064.82,1044.39 L1066.74,1044.36 L1068.66,1044.33 L1070.59,1044.29 L1072.51,1044.26 L1074.43,1044.23 L1076.35,1044.20 L1078.27,1044.17 L1080.19,1044.14 L1082.11,1044.11 L1084.03,1044.08 L1085.95,1044.06 L1087.87,1044.03 L1089.79,1044.00 L1091.71,1043.98 L1093.63,1043.95 L1095.55,1043.93 L1097.47,1043.91 L1099.39,1043.89 L1101.32,1043.86 L1103.24,1043.84 L1105.16,1043.82 L1107.08,1043.80 L1109.00,1043.78 L1110.92,1043.77 L1112.84,1043.75 L1114.76,1043.73 L1116.68,1043.72 L1118.60,1043.70 L1120.52,1043.69 L1122.44,1043.67 L1124.36,1043.66 L1126.28,1043.65 L1128.20,1043.64 L1130.11,1043.63 L1132.03,1043.62 L1133.95,1043.61 L1135.87,1043.60 L1137.79,1043.59 L1139.71,1043.58 L1141.63,1043.58 L1143.55,1043.57 L1145.47,1043.57 L1147.39,1043.56 L1149.31,1043.56 L1151.23,1043.55 L1153.14,1043.55 L1155.06,1043.55 L1156.98,1043.55 L1158.90,1043.55 L1160.82,1043.55 L1162.74,1043.55 L1164.66,1043.55 L1166.57,1043.56 L1168.49,1043.56 L1170.41,1043.57 L1172.33,1043.57 L1174.25,1043.58 L1176.16,1043.58 L1178.08,1043.59 L1180.00,1043.60 L1321.60,1043.60" fill="none" stroke="#233186" stroke-width="3.3" stroke-linejoin="round"/>
<path d="M338.85,34.70 L342.20,34.70 L342.20,7.80 L339.40,7.80 L333.10,10.55 L334.30,13.70 L338.85,11.30Z" fill="#000"/>
<path d="M336.95,1267.70 L340.30,1267.70 L340.30,1240.80 L337.50,1240.80 L331.20,1243.55 L332.40,1246.70 L336.95,1244.30Z" fill="#000"/>
<path d="M201.59,61.65 L204.90,61.65 L204.90,35.05 L202.13,35.05 L195.90,37.77 L197.09,40.88 L201.59,38.51Z" fill="#000"/>
<line x1="201.50" y1="301.69" x2="212.20" y2="301.69" stroke="#000" stroke-width="3.1" />
<path d="M201.59,404.45 L204.90,404.45 L204.90,377.35 L202.13,377.35 L195.90,380.12 L197.09,383.29 L201.59,380.88Z" fill="#000"/>
<line x1="179.90" y1="393.08" x2="190.70" y2="393.08" stroke="#000" stroke-width="3.1" />
<path d="M201.59,481.45 L204.90,481.45 L204.90,454.25 L202.13,454.25 L195.90,457.03 L197.09,460.22 L201.59,457.79Z" fill="#000"/>
<line x1="179.90" y1="470.04" x2="190.70" y2="470.04" stroke="#000" stroke-width="3.1" />
<line x1="206.10" y1="625.31" x2="216.80" y2="625.31" stroke="#000" stroke-width="3.1" />
<path d="M206.19,728.25 L209.50,728.25 L209.50,701.45 L206.73,701.45 L200.50,704.19 L201.69,707.33 L206.19,704.94Z" fill="#000"/>
<line x1="184.50" y1="717.01" x2="195.30" y2="717.01" stroke="#000" stroke-width="3.1" />
<path d="M206.19,805.25 L209.50,805.25 L209.50,778.65 L206.73,778.65 L200.50,781.37 L201.69,784.48 L206.19,782.11Z" fill="#000"/>
<line x1="184.50" y1="794.09" x2="195.30" y2="794.09" stroke="#000" stroke-width="3.1" />
<path d="M209.59,970.55 L212.90,970.55 L212.90,944.05 L210.13,944.05 L203.90,946.76 L205.09,949.86 L209.59,947.50Z" fill="#000"/>
<path d="M209.59,1135.35 L212.90,1135.35 L212.90,1108.85 L210.13,1108.85 L203.90,1111.56 L205.09,1114.66 L209.59,1112.30Z" fill="#000"/>
<line x1="187.90" y1="1124.23" x2="198.70" y2="1124.23" stroke="#000" stroke-width="3.1" />
<line x1="187.90" y1="1217.23" x2="198.70" y2="1217.23" stroke="#000" stroke-width="3.1" />
<path d="M84.80,191.20 L100.20,191.20 L100.20,194.10 L88.52,194.10 L88.52,203.00 L99.79,203.00 L99.79,205.90 L88.52,205.90 L88.52,216.00 L100.90,216.00 L100.90,218.90 L84.80,218.90Z" fill="#000"/>
<path d="M84.80,635.80 L100.20,635.80 L100.20,638.70 L88.52,638.70 L88.52,647.60 L99.79,647.60 L99.79,650.50 L88.52,650.50 L88.52,660.60 L100.90,660.60 L100.90,663.50 L84.80,663.50Z" fill="#000"/>
<path d="M1332.30,313.80 L1347.70,313.80 L1347.70,316.70 L1336.02,316.70 L1336.02,325.60 L1347.29,325.60 L1347.29,328.50 L1336.02,328.50 L1336.02,338.60 L1348.40,338.60 L1348.40,341.50 L1332.30,341.50Z" fill="#000"/>
<path d="M1333.10,641.60 L1348.78,641.60 L1348.78,644.52 L1336.89,644.52 L1336.89,653.49 L1348.37,653.49 L1348.37,656.41 L1336.89,656.41 L1336.89,666.58 L1349.50,666.58 L1349.50,669.50 L1333.10,669.50Z" fill="#000"/>
<path d="M430.80,185.90 L446.20,185.90 L446.20,188.82 L434.52,188.82 L434.52,197.79 L445.79,197.79 L445.79,200.71 L434.52,200.71 L434.52,210.88 L446.90,210.88 L446.90,213.80 L430.80,213.80Z" fill="#000"/>
<line x1="453.40" y1="186.20" x2="461.90" y2="186.20" stroke="#000" stroke-width="2.3" />
<path d="M436.00,351.20 L451.49,351.20 L451.49,354.10 L439.75,354.10 L439.75,363.00 L451.09,363.00 L451.09,365.90 L439.75,365.90 L439.75,376.00 L452.20,376.00 L452.20,378.90 L436.00,378.90Z" fill="#000"/>
<line x1="454.00" y1="351.30" x2="471.20" y2="351.30" stroke="#000" stroke-width="2.5" />
<line x1="462.60" y1="342.50" x2="462.60" y2="360.10" stroke="#000" stroke-width="2.5" />
<text transform="translate(493.47,34.80) scale(1.0092,1)" font-size="38.68" fill="#000">2</text>
<text transform="translate(657.57,34.50) scale(0.9443,1)" font-size="38.26" fill="#000">3</text>
<text transform="translate(817.99,34.80) scale(1.0227,1)" font-size="38.12" fill="#000">4</text>
<text transform="translate(986.87,34.51) scale(0.9582,1)" font-size="37.70" fill="#000">5</text>
<text transform="translate(1145.81,34.50) scale(1.1096,1)" font-size="38.26" fill="#000">6</text>
<text transform="translate(1304.63,34.80) scale(0.9907,1)" font-size="38.12" fill="#000">7</text>
<text transform="translate(490.97,1267.70) scale(1.0092,1)" font-size="38.68" fill="#000">2</text>
<text transform="translate(656.09,1267.40) scale(0.9281,1)" font-size="38.26" fill="#000">3</text>
<text transform="translate(816.28,1267.70) scale(1.0431,1)" font-size="38.12" fill="#000">4</text>
<text transform="translate(984.80,1267.41) scale(0.9363,1)" font-size="37.70" fill="#000">5</text>
<text transform="translate(1145.25,1267.40) scale(1.0873,1)" font-size="38.26" fill="#000">6</text>
<text transform="translate(1303.19,1267.70) scale(1.0131,1)" font-size="38.12" fill="#000">7</text>
<text transform="translate(212.91,61.40) scale(1.0021,1)" font-size="38.12" fill="#000">0</text>
<text transform="translate(213.60,146.71) scale(0.9346,1)" font-size="37.77" fill="#000">5</text>
<text transform="translate(212.91,230.10) scale(0.9984,1)" font-size="38.26" fill="#000">0</text>
<text transform="translate(213.60,312.61) scale(0.9415,1)" font-size="37.50" fill="#000">5</text>
<text transform="translate(212.91,404.19) scale(0.9841,1)" font-size="38.82" fill="#000">0</text>
<text transform="translate(213.60,481.20) scale(0.9210,1)" font-size="38.33" fill="#000">5</text>
<text transform="translate(217.51,553.61) scale(1.0169,1)" font-size="37.57" fill="#000">0</text>
<text transform="translate(218.20,636.31) scale(0.9346,1)" font-size="37.77" fill="#000">5</text>
<text transform="translate(217.51,728.00) scale(0.9948,1)" font-size="38.40" fill="#000">0</text>
<text transform="translate(218.20,805.01) scale(0.9415,1)" font-size="37.50" fill="#000">5</text>
<text transform="translate(220.91,884.61) scale(1.0169,1)" font-size="37.57" fill="#000">0</text>
<text transform="translate(199.67,884.85) scale(1.0300,1)" font-size="37.90" fill="#000">2</text>
<text transform="translate(220.91,970.31) scale(1.0057,1)" font-size="37.98" fill="#000">0</text>
<text transform="translate(220.91,1053.02) scale(1.0283,1)" font-size="37.15" fill="#000">0</text>
<text transform="translate(220.91,1135.11) scale(1.0057,1)" font-size="37.98" fill="#000">0</text>
<text transform="translate(220.91,1228.11) scale(1.0057,1)" font-size="37.98" fill="#000">0</text>
<text transform="translate(199.67,1228.35) scale(1.0186,1)" font-size="38.33" fill="#000">2</text>
<text transform="translate(57.57,266.30) scale(1.0333,1)" font-size="35.67" fill="#000">(eV)</text>
<text transform="translate(57.57,711.40) scale(1.0333,1)" font-size="35.67" fill="#000">(eV)</text>
<text transform="translate(78.61,1044.29) scale(0.9779,1)" font-size="39.10" fill="#000">U</text>
<text transform="translate(0.45,1091.89) scale(1.0771,1)" font-size="36.62" fill="#000">(eV/dimer)</text>
<text transform="translate(777.24,1329.00) scale(0.9771,1)" font-size="36.09" fill="#000">R (au)</text>
<text transform="translate(947.86,145.13) scale(0.9710,1)" font-size="38.71" fill="#000">DFT energy levels</text>
<text transform="translate(976.61,624.22) scale(0.9824,1)" font-size="38.29" fill="#000">TB parameters</text>
<text transform="translate(962.18,978.51) scale(1.0276,1)" font-size="38.82" fill="#000">Binding energy</text>
<text transform="translate(1350.98,322.71) scale(0.9498,1)" font-size="31.17" fill="#000">0</text>
<text transform="translate(1351.66,650.51) scale(0.9690,1)" font-size="31.17" fill="#000">0</text>
<text transform="translate(315.44,640.46) scale(1.1060,1)" font-size="27.91" fill="#000">α</text>
<text transform="translate(334.27,638.30) scale(1.1366,1)" font-size="29.87" fill="#000">*</text>
<text transform="translate(676.38,606.63) scale(1.1187,1)" font-size="35.99" fill="#000">β</text>
<text transform="translate(701.81,596.56) scale(1.3165,1)" font-size="28.53" fill="#000">*</text>
<text transform="translate(700.71,620.36) scale(1.1244,1)" font-size="28.10" fill="#000">0</text>
<text transform="translate(285.63,911.37) scale(0.9079,1)" font-size="40.07" fill="#000">U</text>
<text transform="translate(309.31,924.50) scale(1.0568,1)" font-size="30.17" fill="#000">rep</text>
<text transform="translate(313.69,1012.37) scale(0.9110,1)" font-size="40.49" fill="#000">U</text>
<text transform="translate(339.32,1023.72) scale(0.9142,1)" font-size="30.93" fill="#000">es</text>
<text transform="translate(297.64,1072.88) scale(0.9132,1)" font-size="39.65" fill="#000">U</text>
<text transform="translate(323.91,1082.71) scale(1.0096,1)" font-size="31.60" fill="#000">be</text>
<text transform="translate(408.73,977.98) scale(0.9239,1)" font-size="39.37" fill="#000">U</text>
<text transform="translate(432.72,991.23) scale(1.0416,1)" font-size="30.22" fill="#000">over</text>
<text transform="translate(500.11,1127.47) scale(0.9100,1)" font-size="40.35" fill="#000">U</text>
<text transform="translate(522.02,1140.53) scale(1.0350,1)" font-size="30.22" fill="#000">cov</text>
</svg>
</body></html>
